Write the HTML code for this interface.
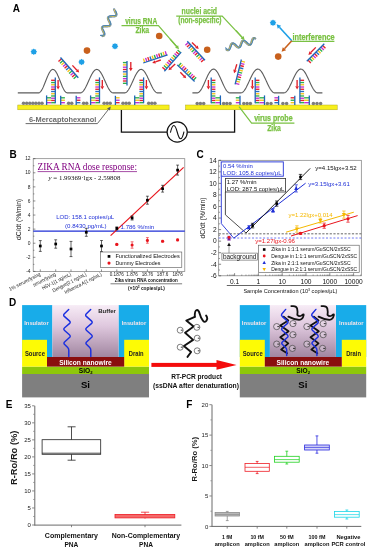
<!DOCTYPE html>
<html><head><meta charset="utf-8"><title>Figure</title>
<style>
html,body{margin:0;padding:0;background:#fff;}
body{width:372px;height:550px;overflow:hidden;font-family:"Liberation Sans",sans-serif;}
svg{display:block;filter:blur(0.3px);}
svg text{font-family:"Liberation Sans",sans-serif;}
svg text.serif{font-family:"Liberation Serif",serif;}
</style></head>
<body>
<svg width="372" height="550" viewBox="0 0 372 550">
<rect x="0" y="0" width="372" height="550" fill="#ffffff"/>
<g id="panelA"><text x="12.7" y="12.1" font-size="10" font-weight="bold" fill="#000" text-anchor="start" >A</text><polyline points="17.8,92.9 18.3,92.9 18.8,92.9 19.3,92.9 19.8,92.9 20.3,92.9 20.8,92.9 21.3,92.9 21.8,92.9 22.3,92.9 22.8,92.9 23.3,92.9 23.8,92.9 24.3,92.9 24.8,92.9 25.3,92.9 25.8,92.9 26.3,92.9 26.8,92.9 27.3,92.9 27.8,92.9 28.3,92.9 28.8,92.9 29.3,92.9 29.8,92.9 30.3,92.9 30.8,92.9 31.3,92.9 31.8,92.9 32.3,92.9 32.8,92.9 33.3,92.9 33.8,92.9 34.3,92.9 34.8,92.9 35.3,92.9 35.8,92.9 36.3,92.9 36.8,92.9 37.3,92.9 37.8,92.9 38.3,92.9 38.8,92.86 39.3,92.68 39.8,92.36 40.3,91.92 40.8,91.35 41.3,90.66 41.8,89.85 42.3,88.95 42.8,87.95 43.3,86.88 43.8,85.73 44.3,84.54 44.8,83.3 45.3,82.04 45.8,80.77 46.3,79.5 46.8,78.25 47.3,77.04 47.8,75.87 48.3,74.77 48.8,73.74 49.3,72.8 49.8,71.95 50.3,71.22 50.8,70.6 51.3,70.1 51.8,69.73 52.3,69.5 52.8,69.4 53.3,69.44 53.8,69.62 54.3,69.94 54.8,70.38 55.3,70.95 55.8,71.64 56.3,72.45 56.8,73.35 57.3,74.35 57.8,75.42 58.3,76.57 58.8,77.76 59.3,79 59.8,80.26 60.3,81.53 60.8,82.8 61.3,84.05 61.8,85.26 62.3,86.43 62.8,87.53 63.3,88.56 63.8,89.5 64.3,90.35 64.8,91.08 65.3,91.7 65.8,92.2 66.3,92.57 66.8,92.8 67.3,92.9 67.8,92.9 68.3,92.9 68.8,92.9 69.3,92.9 69.8,92.9 70.3,92.9 70.8,92.9 71.3,92.9 71.8,92.9 72.3,92.9 72.8,92.9 73.3,92.9 73.8,92.9 74.3,92.9 74.8,92.9 75.3,92.9 75.8,92.9 76.3,92.9 76.8,92.9 77.3,92.9 77.8,92.9 78.3,92.9 78.8,92.9 79.3,92.9 79.8,92.9 80.3,92.9 80.8,92.85 81.3,92.69 81.8,92.42 82.3,92.06 82.8,91.59 83.3,91.03 83.8,90.39 84.3,89.65 84.8,88.84 85.3,87.97 85.8,87.03 86.3,86.03 86.8,84.99 87.3,83.92 87.8,82.82 88.3,81.71 88.8,80.59 89.3,79.48 89.8,78.38 90.3,77.31 90.8,76.27 91.3,75.28 91.8,74.33 92.3,73.46 92.8,72.65 93.3,71.91 93.8,71.27 94.3,70.71 94.8,70.24 95.3,69.88 95.8,69.61 96.3,69.45 96.8,69.4 97.3,69.45 97.8,69.61 98.3,69.88 98.8,70.24 99.3,70.71 99.8,71.27 100.3,71.91 100.8,72.65 101.3,73.46 101.8,74.33 102.3,75.28 102.8,76.27 103.3,77.31 103.8,78.38 104.3,79.48 104.8,80.59 105.3,81.71 105.8,82.82 106.3,83.92 106.8,84.99 107.3,86.03 107.8,87.03 108.3,87.97 108.8,88.84 109.3,89.65 109.8,90.39 110.3,91.03 110.8,91.59 111.3,92.06 111.8,92.42 112.3,92.69 112.8,92.85 113.3,92.9 113.8,92.9 114.3,92.9 114.8,92.9 115.3,92.9 115.8,92.9 116.3,92.9 116.8,92.9 117.3,92.9 117.8,92.9 118.3,92.9 118.8,92.9 119.3,92.9 119.8,92.9 120.3,92.9 120.8,92.9 121.3,92.9 121.8,92.9 122.3,92.9 122.8,92.9 123.3,92.9 123.8,92.9 124.3,92.9 124.8,92.88 125.3,92.77 125.8,92.55 126.3,92.22 126.8,91.8 127.3,91.29 127.8,90.68 128.3,89.99 128.8,89.22 129.3,88.38 129.8,87.47 130.3,86.5 130.8,85.49 131.3,84.44 131.8,83.36 132.3,82.26 132.8,81.15 133.3,80.04 133.8,78.94 134.3,77.86 134.8,76.81 135.3,75.8 135.8,74.83 136.3,73.92 136.8,73.08 137.3,72.31 137.8,71.62 138.3,71.01 138.8,70.5 139.3,70.08 139.8,69.75 140.3,69.53 140.8,69.42 141.3,69.41 141.8,69.5 142.3,69.7 142.8,70 143.3,70.4 143.8,70.9 144.3,71.49 144.8,72.16 145.3,72.92 145.8,73.75 146.3,74.65 146.8,75.6 147.3,76.6 147.8,77.65 148.3,78.72 148.8,79.82 149.3,80.93 149.8,82.04 150.3,83.14 150.8,84.23 151.3,85.28 151.8,86.31 152.3,87.28 152.8,88.2 153.3,89.06 153.8,89.84 154.3,90.55 154.8,91.17 155.3,91.71 155.8,92.15 156.3,92.49 156.8,92.73 157.3,92.87 157.8,92.9 158.3,92.9 158.8,92.9 159.3,92.9 159.8,92.9 160.3,92.9 160.8,92.9 161.3,92.9 161.8,92.9" fill="none" stroke="#5c5c5c" stroke-width="1.1" stroke-linejoin="round"/><polyline points="192.4,92.9 192.9,92.9 193.4,92.9 193.9,92.9 194.4,92.9 194.9,92.9 195.4,92.9 195.9,92.9 196.4,92.9 196.9,92.9 197.4,92.88 197.9,92.76 198.4,92.53 198.9,92.2 199.4,91.76 199.9,91.23 200.4,90.6 200.9,89.88 201.4,89.09 201.9,88.21 202.4,87.28 202.9,86.28 203.4,85.24 203.9,84.15 204.4,83.04 204.9,81.91 205.4,80.77 205.9,79.64 206.4,78.51 206.9,77.41 207.4,76.34 207.9,75.32 208.4,74.34 208.9,73.43 209.4,72.59 209.9,71.82 210.4,71.14 210.9,70.55 211.4,70.05 211.9,69.65 212.4,69.36 212.9,69.18 213.4,69.1 213.9,69.13 214.4,69.28 214.9,69.53 215.4,69.88 215.9,70.34 216.4,70.89 216.9,71.54 217.4,72.27 217.9,73.08 218.4,73.97 218.9,74.92 219.4,75.92 219.9,76.98 220.4,78.07 220.9,79.18 221.4,80.32 221.9,81.46 222.4,82.59 222.9,83.71 223.4,84.81 223.9,85.87 224.4,86.88 224.9,87.85 225.4,88.75 225.9,89.57 226.4,90.32 226.9,90.99 227.4,91.56 227.9,92.04 228.4,92.41 228.9,92.68 229.4,92.85 229.9,92.9 230.4,92.9 230.9,92.9 231.4,92.9 231.9,92.9 232.4,92.9 232.9,92.9 233.4,92.9 233.9,92.9 234.4,92.9 234.9,92.9 235.4,92.9 235.9,92.9 236.4,92.9 236.9,92.9 237.4,92.9 237.9,92.9 238.4,92.9 238.9,92.9 239.4,92.9 239.9,92.9 240.4,92.9 240.9,92.9 241.4,92.83 241.9,92.65 242.4,92.38 242.9,92.02 243.4,91.55 243.9,91 244.4,90.36 244.9,89.64 245.4,88.85 245.9,87.99 246.4,87.08 246.9,86.11 247.4,85.09 247.9,84.04 248.4,82.97 248.9,81.88 249.4,80.78 249.9,79.68 250.4,78.6 250.9,77.53 251.4,76.5 251.9,75.5 252.4,74.55 252.9,73.65 253.4,72.82 253.9,72.06 254.4,71.37 254.9,70.77 255.4,70.25 255.9,69.83 256.4,69.5 256.9,69.26 257.4,69.13 257.9,69.1 258.4,69.17 258.9,69.35 259.4,69.62 259.9,69.98 260.4,70.45 260.9,71 261.4,71.64 261.9,72.36 262.4,73.15 262.9,74.01 263.4,74.92 263.9,75.89 264.4,76.91 264.9,77.96 265.4,79.03 265.9,80.12 266.4,81.22 266.9,82.32 267.4,83.4 267.9,84.47 268.4,85.5 268.9,86.5 269.4,87.45 269.9,88.35 270.4,89.18 270.9,89.94 271.4,90.63 271.9,91.23 272.4,91.75 272.9,92.17 273.4,92.5 273.9,92.74 274.4,92.87 274.9,92.9 275.4,92.9 275.9,92.9 276.4,92.9 276.9,92.9 277.4,92.9 277.9,92.9 278.4,92.9 278.9,92.9 279.4,92.9 279.9,92.9 280.4,92.9 280.9,92.9 281.4,92.9 281.9,92.9 282.4,92.9 282.9,92.9 283.4,92.9 283.9,92.9 284.4,92.83 284.9,92.65 285.4,92.38 285.9,92.02 286.4,91.55 286.9,91 287.4,90.36 287.9,89.64 288.4,88.85 288.9,87.99 289.4,87.08 289.9,86.11 290.4,85.09 290.9,84.04 291.4,82.97 291.9,81.88 292.4,80.78 292.9,79.68 293.4,78.6 293.9,77.53 294.4,76.5 294.9,75.5 295.4,74.55 295.9,73.65 296.4,72.82 296.9,72.06 297.4,71.37 297.9,70.77 298.4,70.25 298.9,69.83 299.4,69.5 299.9,69.26 300.4,69.13 300.9,69.1 301.4,69.17 301.9,69.35 302.4,69.62 302.9,69.98 303.4,70.45 303.9,71 304.4,71.64 304.9,72.36 305.4,73.15 305.9,74.01 306.4,74.92 306.9,75.89 307.4,76.91 307.9,77.96 308.4,79.03 308.9,80.12 309.4,81.22 309.9,82.32 310.4,83.4 310.9,84.47 311.4,85.5 311.9,86.5 312.4,87.45 312.9,88.35 313.4,89.18 313.9,89.94 314.4,90.63 314.9,91.23 315.4,91.75 315.9,92.17 316.4,92.5 316.9,92.74 317.4,92.87 317.9,92.9 318.4,92.9 318.9,92.9 319.4,92.9 319.9,92.9 320.4,92.9 320.9,92.9 321.4,92.9 321.9,92.9 322.4,92.9" fill="none" stroke="#5c5c5c" stroke-width="1.1" stroke-linejoin="round"/><rect x="17.8" y="105" width="151.3" height="4.8" fill="#f7ef1c" stroke="#a9a21a" stroke-width="0.45"/><rect x="185.5" y="105" width="151.7" height="4.8" fill="#f7ef1c" stroke="#a9a21a" stroke-width="0.45"/><circle cx="23.5" cy="103.3" r="1.75" fill="#7d7d7d"/><circle cx="26.7" cy="103.3" r="1.75" fill="#7d7d7d"/><circle cx="29.8" cy="103.3" r="1.75" fill="#7d7d7d"/><circle cx="32.9" cy="103.3" r="1.75" fill="#7d7d7d"/><circle cx="35.9" cy="103.3" r="1.75" fill="#7d7d7d"/><circle cx="39" cy="103.3" r="1.75" fill="#7d7d7d"/><circle cx="42" cy="103.3" r="1.75" fill="#7d7d7d"/><circle cx="68.6" cy="103.3" r="1.75" fill="#7d7d7d"/><circle cx="71.7" cy="103.3" r="1.75" fill="#7d7d7d"/><circle cx="83.6" cy="103.3" r="1.75" fill="#7d7d7d"/><circle cx="86.7" cy="103.3" r="1.75" fill="#7d7d7d"/><circle cx="104.1" cy="103.3" r="1.75" fill="#7d7d7d"/><circle cx="107.2" cy="103.3" r="1.75" fill="#7d7d7d"/><circle cx="110.2" cy="103.3" r="1.75" fill="#7d7d7d"/><circle cx="123" cy="103.3" r="1.75" fill="#7d7d7d"/><circle cx="126.1" cy="103.3" r="1.75" fill="#7d7d7d"/><circle cx="129.2" cy="103.3" r="1.75" fill="#7d7d7d"/><circle cx="148.7" cy="103.3" r="1.75" fill="#7d7d7d"/><circle cx="151.8" cy="103.3" r="1.75" fill="#7d7d7d"/><circle cx="154.9" cy="103.3" r="1.75" fill="#7d7d7d"/><line x1="55.3" y1="80.3" x2="51.1" y2="80.3" stroke="#e8212b" stroke-width="1.35"/><line x1="55.3" y1="82.54" x2="51.1" y2="82.54" stroke="#2fb04a" stroke-width="1.35"/><line x1="55.3" y1="84.78" x2="51.1" y2="84.78" stroke="#f6c21a" stroke-width="1.35"/><line x1="55.3" y1="87.02" x2="51.1" y2="87.02" stroke="#c531cf" stroke-width="1.35"/><line x1="55.3" y1="89.26" x2="51.1" y2="89.26" stroke="#e8212b" stroke-width="1.35"/><line x1="55.3" y1="91.5" x2="51.1" y2="91.5" stroke="#2b6fc0" stroke-width="1.35"/><line x1="55.3" y1="93.74" x2="51.1" y2="93.74" stroke="#f6c21a" stroke-width="1.35"/><line x1="55.3" y1="95.98" x2="51.1" y2="95.98" stroke="#2fb04a" stroke-width="1.35"/><line x1="55.3" y1="98.22" x2="51.1" y2="98.22" stroke="#c531cf" stroke-width="1.35"/><line x1="55.3" y1="100.46" x2="51.1" y2="100.46" stroke="#e8212b" stroke-width="1.35"/><line x1="55.3" y1="102.7" x2="51.1" y2="102.7" stroke="#2fb04a" stroke-width="1.35"/><line x1="55.3" y1="77.4" x2="55.3" y2="103.2" stroke="#1f66b8" stroke-width="1.3"/><line x1="46.6" y1="97.8" x2="51.1" y2="97.8" stroke="#2fb04a" stroke-width="1.35"/><line x1="46.6" y1="100.25" x2="51.1" y2="100.25" stroke="#f6c21a" stroke-width="1.35"/><line x1="46.6" y1="102.7" x2="51.1" y2="102.7" stroke="#c531cf" stroke-width="1.35"/><line x1="46.6" y1="95.4" x2="46.6" y2="105" stroke="#1f66b8" stroke-width="1.3"/><line x1="58.1" y1="80" x2="58.1" y2="86.3" stroke="#e0202a" stroke-width="1.35"/><polygon points="58.1,89.6 56.28,86.3 59.91,86.3" fill="#e0202a"/><line x1="99.5" y1="80.3" x2="95.3" y2="80.3" stroke="#e8212b" stroke-width="1.35"/><line x1="99.5" y1="82.54" x2="95.3" y2="82.54" stroke="#2fb04a" stroke-width="1.35"/><line x1="99.5" y1="84.78" x2="95.3" y2="84.78" stroke="#f6c21a" stroke-width="1.35"/><line x1="99.5" y1="87.02" x2="95.3" y2="87.02" stroke="#c531cf" stroke-width="1.35"/><line x1="99.5" y1="89.26" x2="95.3" y2="89.26" stroke="#e8212b" stroke-width="1.35"/><line x1="99.5" y1="91.5" x2="95.3" y2="91.5" stroke="#2b6fc0" stroke-width="1.35"/><line x1="99.5" y1="93.74" x2="95.3" y2="93.74" stroke="#f6c21a" stroke-width="1.35"/><line x1="99.5" y1="95.98" x2="95.3" y2="95.98" stroke="#2fb04a" stroke-width="1.35"/><line x1="99.5" y1="98.22" x2="95.3" y2="98.22" stroke="#c531cf" stroke-width="1.35"/><line x1="99.5" y1="100.46" x2="95.3" y2="100.46" stroke="#e8212b" stroke-width="1.35"/><line x1="99.5" y1="102.7" x2="95.3" y2="102.7" stroke="#2fb04a" stroke-width="1.35"/><line x1="99.5" y1="77.4" x2="99.5" y2="103.2" stroke="#1f66b8" stroke-width="1.3"/><line x1="90.6" y1="97.8" x2="95.3" y2="97.8" stroke="#2fb04a" stroke-width="1.35"/><line x1="90.6" y1="100.25" x2="95.3" y2="100.25" stroke="#f6c21a" stroke-width="1.35"/><line x1="90.6" y1="102.7" x2="95.3" y2="102.7" stroke="#c531cf" stroke-width="1.35"/><line x1="90.6" y1="95.4" x2="90.6" y2="105" stroke="#1f66b8" stroke-width="1.3"/><line x1="102.3" y1="80" x2="102.3" y2="86.3" stroke="#e0202a" stroke-width="1.35"/><polygon points="102.3,89.6 100.48,86.3 104.11,86.3" fill="#e0202a"/><line x1="143.6" y1="80.3" x2="139.4" y2="80.3" stroke="#e8212b" stroke-width="1.35"/><line x1="143.6" y1="82.54" x2="139.4" y2="82.54" stroke="#2fb04a" stroke-width="1.35"/><line x1="143.6" y1="84.78" x2="139.4" y2="84.78" stroke="#f6c21a" stroke-width="1.35"/><line x1="143.6" y1="87.02" x2="139.4" y2="87.02" stroke="#c531cf" stroke-width="1.35"/><line x1="143.6" y1="89.26" x2="139.4" y2="89.26" stroke="#e8212b" stroke-width="1.35"/><line x1="143.6" y1="91.5" x2="139.4" y2="91.5" stroke="#2b6fc0" stroke-width="1.35"/><line x1="143.6" y1="93.74" x2="139.4" y2="93.74" stroke="#f6c21a" stroke-width="1.35"/><line x1="143.6" y1="95.98" x2="139.4" y2="95.98" stroke="#2fb04a" stroke-width="1.35"/><line x1="143.6" y1="98.22" x2="139.4" y2="98.22" stroke="#c531cf" stroke-width="1.35"/><line x1="143.6" y1="100.46" x2="139.4" y2="100.46" stroke="#e8212b" stroke-width="1.35"/><line x1="143.6" y1="102.7" x2="139.4" y2="102.7" stroke="#2fb04a" stroke-width="1.35"/><line x1="143.6" y1="77.4" x2="143.6" y2="103.2" stroke="#1f66b8" stroke-width="1.3"/><line x1="134.7" y1="97.8" x2="139.4" y2="97.8" stroke="#2fb04a" stroke-width="1.35"/><line x1="134.7" y1="100.25" x2="139.4" y2="100.25" stroke="#f6c21a" stroke-width="1.35"/><line x1="134.7" y1="102.7" x2="139.4" y2="102.7" stroke="#c531cf" stroke-width="1.35"/><line x1="134.7" y1="95.4" x2="134.7" y2="105" stroke="#1f66b8" stroke-width="1.3"/><line x1="146.4" y1="80" x2="146.4" y2="86.3" stroke="#e0202a" stroke-width="1.35"/><polygon points="146.4,89.6 144.59,86.3 148.22,86.3" fill="#e0202a"/><line x1="60.7" y1="97.8" x2="64.9" y2="97.8" stroke="#2fb04a" stroke-width="1.35"/><line x1="60.7" y1="100.25" x2="64.9" y2="100.25" stroke="#f6c21a" stroke-width="1.35"/><line x1="60.7" y1="102.7" x2="64.9" y2="102.7" stroke="#c531cf" stroke-width="1.35"/><line x1="60.7" y1="95.8" x2="60.7" y2="105" stroke="#1f66b8" stroke-width="1.3"/><line x1="76.2" y1="97.8" x2="80.4" y2="97.8" stroke="#c531cf" stroke-width="1.35"/><line x1="76.2" y1="100.25" x2="80.4" y2="100.25" stroke="#e8212b" stroke-width="1.35"/><line x1="76.2" y1="102.7" x2="80.4" y2="102.7" stroke="#2b6fc0" stroke-width="1.35"/><line x1="76.2" y1="95.8" x2="76.2" y2="105" stroke="#1f66b8" stroke-width="1.3"/><line x1="115.4" y1="97.8" x2="119.6" y2="97.8" stroke="#f6c21a" stroke-width="1.35"/><line x1="115.4" y1="100.25" x2="119.6" y2="100.25" stroke="#c531cf" stroke-width="1.35"/><line x1="115.4" y1="102.7" x2="119.6" y2="102.7" stroke="#e8212b" stroke-width="1.35"/><line x1="115.4" y1="95.8" x2="115.4" y2="105" stroke="#1f66b8" stroke-width="1.3"/><circle cx="197.2" cy="103.6" r="1.75" fill="#7d7d7d"/><circle cx="200.4" cy="103.6" r="1.75" fill="#7d7d7d"/><circle cx="203.7" cy="103.6" r="1.75" fill="#7d7d7d"/><circle cx="223.6" cy="103.6" r="1.75" fill="#7d7d7d"/><circle cx="226.8" cy="103.6" r="1.75" fill="#7d7d7d"/><circle cx="230.1" cy="103.6" r="1.75" fill="#7d7d7d"/><circle cx="243.8" cy="103.6" r="1.75" fill="#7d7d7d"/><circle cx="247.1" cy="103.6" r="1.75" fill="#7d7d7d"/><circle cx="250.4" cy="103.6" r="1.75" fill="#7d7d7d"/><circle cx="267.4" cy="103.6" r="1.75" fill="#7d7d7d"/><circle cx="271" cy="103.6" r="1.75" fill="#7d7d7d"/><circle cx="282.9" cy="103.6" r="1.75" fill="#7d7d7d"/><circle cx="286.6" cy="103.6" r="1.75" fill="#7d7d7d"/><circle cx="313.4" cy="103.6" r="1.75" fill="#7d7d7d"/><circle cx="317" cy="103.6" r="1.75" fill="#7d7d7d"/><circle cx="320.6" cy="103.6" r="1.75" fill="#7d7d7d"/><line x1="211.2" y1="80.3" x2="215.4" y2="80.3" stroke="#e8212b" stroke-width="1.35"/><line x1="211.2" y1="82.54" x2="215.4" y2="82.54" stroke="#2fb04a" stroke-width="1.35"/><line x1="211.2" y1="84.78" x2="215.4" y2="84.78" stroke="#f6c21a" stroke-width="1.35"/><line x1="211.2" y1="87.02" x2="215.4" y2="87.02" stroke="#c531cf" stroke-width="1.35"/><line x1="211.2" y1="89.26" x2="215.4" y2="89.26" stroke="#e8212b" stroke-width="1.35"/><line x1="211.2" y1="91.5" x2="215.4" y2="91.5" stroke="#2b6fc0" stroke-width="1.35"/><line x1="211.2" y1="93.74" x2="215.4" y2="93.74" stroke="#f6c21a" stroke-width="1.35"/><line x1="211.2" y1="95.98" x2="215.4" y2="95.98" stroke="#2fb04a" stroke-width="1.35"/><line x1="211.2" y1="98.22" x2="215.4" y2="98.22" stroke="#c531cf" stroke-width="1.35"/><line x1="211.2" y1="100.46" x2="215.4" y2="100.46" stroke="#e8212b" stroke-width="1.35"/><line x1="211.2" y1="102.7" x2="215.4" y2="102.7" stroke="#2fb04a" stroke-width="1.35"/><line x1="211.2" y1="77.4" x2="211.2" y2="103.2" stroke="#1f66b8" stroke-width="1.3"/><line x1="220.4" y1="97.8" x2="215.4" y2="97.8" stroke="#2fb04a" stroke-width="1.35"/><line x1="220.4" y1="100.25" x2="215.4" y2="100.25" stroke="#f6c21a" stroke-width="1.35"/><line x1="220.4" y1="102.7" x2="215.4" y2="102.7" stroke="#c531cf" stroke-width="1.35"/><line x1="220.4" y1="95.4" x2="220.4" y2="105" stroke="#1f66b8" stroke-width="1.3"/><line x1="208.4" y1="80" x2="208.4" y2="86.3" stroke="#e0202a" stroke-width="1.35"/><polygon points="208.4,89.6 206.58,86.3 210.21,86.3" fill="#e0202a"/><line x1="255.2" y1="80.3" x2="259.4" y2="80.3" stroke="#e8212b" stroke-width="1.35"/><line x1="255.2" y1="82.54" x2="259.4" y2="82.54" stroke="#2fb04a" stroke-width="1.35"/><line x1="255.2" y1="84.78" x2="259.4" y2="84.78" stroke="#f6c21a" stroke-width="1.35"/><line x1="255.2" y1="87.02" x2="259.4" y2="87.02" stroke="#c531cf" stroke-width="1.35"/><line x1="255.2" y1="89.26" x2="259.4" y2="89.26" stroke="#e8212b" stroke-width="1.35"/><line x1="255.2" y1="91.5" x2="259.4" y2="91.5" stroke="#2b6fc0" stroke-width="1.35"/><line x1="255.2" y1="93.74" x2="259.4" y2="93.74" stroke="#f6c21a" stroke-width="1.35"/><line x1="255.2" y1="95.98" x2="259.4" y2="95.98" stroke="#2fb04a" stroke-width="1.35"/><line x1="255.2" y1="98.22" x2="259.4" y2="98.22" stroke="#c531cf" stroke-width="1.35"/><line x1="255.2" y1="100.46" x2="259.4" y2="100.46" stroke="#e8212b" stroke-width="1.35"/><line x1="255.2" y1="102.7" x2="259.4" y2="102.7" stroke="#2fb04a" stroke-width="1.35"/><line x1="255.2" y1="77.4" x2="255.2" y2="103.2" stroke="#1f66b8" stroke-width="1.3"/><line x1="264.5" y1="97.8" x2="259.4" y2="97.8" stroke="#2fb04a" stroke-width="1.35"/><line x1="264.5" y1="100.25" x2="259.4" y2="100.25" stroke="#f6c21a" stroke-width="1.35"/><line x1="264.5" y1="102.7" x2="259.4" y2="102.7" stroke="#c531cf" stroke-width="1.35"/><line x1="264.5" y1="95.4" x2="264.5" y2="105" stroke="#1f66b8" stroke-width="1.3"/><line x1="252.4" y1="80" x2="252.4" y2="86.3" stroke="#e0202a" stroke-width="1.35"/><polygon points="252.4,89.6 250.58,86.3 254.21,86.3" fill="#e0202a"/><line x1="299.9" y1="80.3" x2="304.1" y2="80.3" stroke="#e8212b" stroke-width="1.35"/><line x1="299.9" y1="82.54" x2="304.1" y2="82.54" stroke="#2fb04a" stroke-width="1.35"/><line x1="299.9" y1="84.78" x2="304.1" y2="84.78" stroke="#f6c21a" stroke-width="1.35"/><line x1="299.9" y1="87.02" x2="304.1" y2="87.02" stroke="#c531cf" stroke-width="1.35"/><line x1="299.9" y1="89.26" x2="304.1" y2="89.26" stroke="#e8212b" stroke-width="1.35"/><line x1="299.9" y1="91.5" x2="304.1" y2="91.5" stroke="#2b6fc0" stroke-width="1.35"/><line x1="299.9" y1="93.74" x2="304.1" y2="93.74" stroke="#f6c21a" stroke-width="1.35"/><line x1="299.9" y1="95.98" x2="304.1" y2="95.98" stroke="#2fb04a" stroke-width="1.35"/><line x1="299.9" y1="98.22" x2="304.1" y2="98.22" stroke="#c531cf" stroke-width="1.35"/><line x1="299.9" y1="100.46" x2="304.1" y2="100.46" stroke="#e8212b" stroke-width="1.35"/><line x1="299.9" y1="102.7" x2="304.1" y2="102.7" stroke="#2fb04a" stroke-width="1.35"/><line x1="299.9" y1="77.4" x2="299.9" y2="103.2" stroke="#1f66b8" stroke-width="1.3"/><line x1="309.3" y1="97.8" x2="304.1" y2="97.8" stroke="#2fb04a" stroke-width="1.35"/><line x1="309.3" y1="100.25" x2="304.1" y2="100.25" stroke="#f6c21a" stroke-width="1.35"/><line x1="309.3" y1="102.7" x2="304.1" y2="102.7" stroke="#c531cf" stroke-width="1.35"/><line x1="309.3" y1="95.4" x2="309.3" y2="105" stroke="#1f66b8" stroke-width="1.3"/><line x1="297.1" y1="80" x2="297.1" y2="86.3" stroke="#e0202a" stroke-width="1.35"/><polygon points="297.1,89.6 295.28,86.3 298.91,86.3" fill="#e0202a"/><line x1="240" y1="97.8" x2="235.8" y2="97.8" stroke="#2fb04a" stroke-width="1.35"/><line x1="240" y1="100.25" x2="235.8" y2="100.25" stroke="#f6c21a" stroke-width="1.35"/><line x1="240" y1="102.7" x2="235.8" y2="102.7" stroke="#c531cf" stroke-width="1.35"/><line x1="240" y1="95.8" x2="240" y2="105" stroke="#1f66b8" stroke-width="1.3"/><line x1="278.6" y1="97.8" x2="274.4" y2="97.8" stroke="#c531cf" stroke-width="1.35"/><line x1="278.6" y1="100.25" x2="274.4" y2="100.25" stroke="#e8212b" stroke-width="1.35"/><line x1="278.6" y1="102.7" x2="274.4" y2="102.7" stroke="#2b6fc0" stroke-width="1.35"/><line x1="278.6" y1="95.8" x2="278.6" y2="105" stroke="#1f66b8" stroke-width="1.3"/><line x1="294.8" y1="97.8" x2="290.6" y2="97.8" stroke="#e8212b" stroke-width="1.35"/><line x1="294.8" y1="100.25" x2="290.6" y2="100.25" stroke="#2fb04a" stroke-width="1.35"/><line x1="294.8" y1="102.7" x2="290.6" y2="102.7" stroke="#f6c21a" stroke-width="1.35"/><line x1="294.8" y1="95.8" x2="294.8" y2="105" stroke="#1f66b8" stroke-width="1.3"/><line x1="61.55" y1="58.7" x2="58.47" y2="61.41" stroke="#e8212b" stroke-width="1.35"/><line x1="63.07" y1="60.43" x2="59.99" y2="63.14" stroke="#2fb04a" stroke-width="1.35"/><line x1="64.59" y1="62.16" x2="61.5" y2="64.86" stroke="#f6c21a" stroke-width="1.35"/><line x1="66.1" y1="63.89" x2="63.02" y2="66.59" stroke="#c531cf" stroke-width="1.35"/><line x1="67.62" y1="65.62" x2="64.54" y2="68.32" stroke="#e8212b" stroke-width="1.35"/><line x1="69.14" y1="67.35" x2="66.05" y2="70.05" stroke="#2b6fc0" stroke-width="1.35"/><line x1="70.65" y1="69.08" x2="67.57" y2="71.78" stroke="#f6c21a" stroke-width="1.35"/><line x1="72.17" y1="70.81" x2="69.09" y2="73.51" stroke="#2fb04a" stroke-width="1.35"/><line x1="73.69" y1="72.54" x2="70.6" y2="75.24" stroke="#c531cf" stroke-width="1.35"/><line x1="75.2" y1="74.27" x2="72.12" y2="76.97" stroke="#e8212b" stroke-width="1.35"/><line x1="76.72" y1="76" x2="73.64" y2="78.7" stroke="#2fb04a" stroke-width="1.35"/><line x1="60.5" y1="57.5" x2="78.3" y2="77.8" stroke="#1f66b8" stroke-width="1.3"/><line x1="72.4" y1="65.4" x2="76.93" y2="70.2" stroke="#e0202a" stroke-width="1.35"/><polygon points="79.2,72.6 75.61,71.45 78.25,68.95" fill="#e0202a"/><line x1="127" y1="62.6" x2="122.9" y2="62.6" stroke="#2fb04a" stroke-width="1.35"/><line x1="127" y1="64.9" x2="122.9" y2="64.9" stroke="#f6c21a" stroke-width="1.35"/><line x1="127" y1="67.2" x2="122.9" y2="67.2" stroke="#c531cf" stroke-width="1.35"/><line x1="127" y1="69.5" x2="122.9" y2="69.5" stroke="#e8212b" stroke-width="1.35"/><line x1="127" y1="71.8" x2="122.9" y2="71.8" stroke="#2b6fc0" stroke-width="1.35"/><line x1="127" y1="74.1" x2="122.9" y2="74.1" stroke="#f6c21a" stroke-width="1.35"/><line x1="127" y1="76.4" x2="122.9" y2="76.4" stroke="#2fb04a" stroke-width="1.35"/><line x1="127" y1="78.7" x2="122.9" y2="78.7" stroke="#c531cf" stroke-width="1.35"/><line x1="127" y1="81" x2="122.9" y2="81" stroke="#e8212b" stroke-width="1.35"/><line x1="127" y1="83.3" x2="122.9" y2="83.3" stroke="#2fb04a" stroke-width="1.35"/><line x1="127" y1="61" x2="127" y2="85.4" stroke="#1f66b8" stroke-width="1.3"/><line x1="130.8" y1="62" x2="130.8" y2="68" stroke="#e0202a" stroke-width="1.35"/><polygon points="130.8,71.3 128.99,68 132.62,68" fill="#e0202a"/><line x1="144.72" y1="62.49" x2="143.41" y2="58.6" stroke="#f6c21a" stroke-width="1.35"/><line x1="146.9" y1="61.76" x2="145.59" y2="57.87" stroke="#c531cf" stroke-width="1.35"/><line x1="149.08" y1="61.02" x2="147.77" y2="57.14" stroke="#e8212b" stroke-width="1.35"/><line x1="151.26" y1="60.29" x2="149.95" y2="56.41" stroke="#2b6fc0" stroke-width="1.35"/><line x1="153.44" y1="59.56" x2="152.13" y2="55.67" stroke="#f6c21a" stroke-width="1.35"/><line x1="155.62" y1="58.83" x2="154.31" y2="54.94" stroke="#2fb04a" stroke-width="1.35"/><line x1="157.8" y1="58.09" x2="156.49" y2="54.21" stroke="#c531cf" stroke-width="1.35"/><line x1="159.98" y1="57.36" x2="158.67" y2="53.48" stroke="#e8212b" stroke-width="1.35"/><line x1="162.16" y1="56.63" x2="160.85" y2="52.74" stroke="#2fb04a" stroke-width="1.35"/><line x1="164.34" y1="55.9" x2="163.03" y2="52.01" stroke="#f6c21a" stroke-width="1.35"/><line x1="166.52" y1="55.16" x2="165.21" y2="51.28" stroke="#c531cf" stroke-width="1.35"/><line x1="143.2" y1="63" x2="167.6" y2="54.8" stroke="#1f66b8" stroke-width="1.3"/><line x1="160.8" y1="60" x2="155.33" y2="61.85" stroke="#e0202a" stroke-width="1.35"/><polygon points="152.2,62.9 154.75,60.13 155.91,63.57" fill="#e0202a"/><line x1="165.46" y1="70" x2="162.38" y2="67.29" stroke="#e8212b" stroke-width="1.35"/><line x1="166.98" y1="68.27" x2="163.9" y2="65.56" stroke="#2fb04a" stroke-width="1.35"/><line x1="168.49" y1="66.54" x2="165.42" y2="63.84" stroke="#f6c21a" stroke-width="1.35"/><line x1="170.01" y1="64.82" x2="166.94" y2="62.11" stroke="#c531cf" stroke-width="1.35"/><line x1="171.53" y1="63.09" x2="168.45" y2="60.38" stroke="#e8212b" stroke-width="1.35"/><line x1="173.05" y1="61.36" x2="169.97" y2="58.66" stroke="#2b6fc0" stroke-width="1.35"/><line x1="174.57" y1="59.64" x2="171.49" y2="56.93" stroke="#f6c21a" stroke-width="1.35"/><line x1="176.09" y1="57.91" x2="173.01" y2="55.2" stroke="#2fb04a" stroke-width="1.35"/><line x1="177.61" y1="56.18" x2="174.53" y2="53.47" stroke="#c531cf" stroke-width="1.35"/><line x1="179.13" y1="54.46" x2="176.05" y2="51.75" stroke="#e8212b" stroke-width="1.35"/><line x1="180.65" y1="52.73" x2="177.57" y2="50.02" stroke="#2fb04a" stroke-width="1.35"/><line x1="164.4" y1="71.2" x2="181.2" y2="52.1" stroke="#1f66b8" stroke-width="1.3"/><line x1="175.2" y1="63.9" x2="170.82" y2="67.96" stroke="#e0202a" stroke-width="1.35"/><polygon points="168.4,70.2 169.59,66.63 172.05,69.29" fill="#e0202a"/><line x1="188.39" y1="42.47" x2="185.4" y2="45.27" stroke="#c531cf" stroke-width="1.35"/><line x1="189.97" y1="44.15" x2="186.97" y2="46.95" stroke="#e8212b" stroke-width="1.35"/><line x1="191.54" y1="45.83" x2="188.55" y2="48.63" stroke="#2b6fc0" stroke-width="1.35"/><line x1="193.11" y1="47.5" x2="190.12" y2="50.31" stroke="#f6c21a" stroke-width="1.35"/><line x1="194.68" y1="49.18" x2="191.69" y2="51.99" stroke="#2fb04a" stroke-width="1.35"/><line x1="196.25" y1="50.86" x2="193.26" y2="53.66" stroke="#c531cf" stroke-width="1.35"/><line x1="197.83" y1="52.54" x2="194.83" y2="55.34" stroke="#e8212b" stroke-width="1.35"/><line x1="199.4" y1="54.22" x2="196.41" y2="57.02" stroke="#2fb04a" stroke-width="1.35"/><line x1="200.97" y1="55.9" x2="197.98" y2="58.7" stroke="#f6c21a" stroke-width="1.35"/><line x1="202.54" y1="57.58" x2="199.55" y2="60.38" stroke="#c531cf" stroke-width="1.35"/><line x1="204.12" y1="59.26" x2="201.12" y2="62.06" stroke="#e8212b" stroke-width="1.35"/><line x1="187.3" y1="41.3" x2="205" y2="60.2" stroke="#1f66b8" stroke-width="1.3"/><line x1="192" y1="42.4" x2="196.37" y2="46.77" stroke="#e0202a" stroke-width="1.35"/><polygon points="198.7,49.1 195.08,48.05 197.65,45.48" fill="#e0202a"/><line x1="178.36" y1="66" x2="181.19" y2="63.04" stroke="#2fb04a" stroke-width="1.35"/><line x1="180.02" y1="67.59" x2="182.85" y2="64.63" stroke="#f6c21a" stroke-width="1.35"/><line x1="181.69" y1="69.18" x2="184.52" y2="66.21" stroke="#c531cf" stroke-width="1.35"/><line x1="183.35" y1="70.77" x2="186.18" y2="67.8" stroke="#e8212b" stroke-width="1.35"/><line x1="185.01" y1="72.36" x2="187.84" y2="69.39" stroke="#2b6fc0" stroke-width="1.35"/><line x1="186.68" y1="73.94" x2="189.51" y2="70.98" stroke="#f6c21a" stroke-width="1.35"/><line x1="188.34" y1="75.53" x2="191.17" y2="72.56" stroke="#2fb04a" stroke-width="1.35"/><line x1="190.01" y1="77.12" x2="192.84" y2="74.15" stroke="#c531cf" stroke-width="1.35"/><line x1="191.67" y1="78.71" x2="194.5" y2="75.74" stroke="#e8212b" stroke-width="1.35"/><line x1="193.34" y1="80.29" x2="196.17" y2="77.33" stroke="#2fb04a" stroke-width="1.35"/><line x1="177.2" y1="64.9" x2="194.6" y2="81.5" stroke="#1f66b8" stroke-width="1.3"/><line x1="180.3" y1="72.3" x2="183.89" y2="75.95" stroke="#e0202a" stroke-width="1.35"/><polygon points="186.2,78.3 182.59,77.22 185.18,74.67" fill="#e0202a"/><line x1="241.01" y1="61.05" x2="244.98" y2="62.06" stroke="#f6c21a" stroke-width="1.35"/><line x1="240.44" y1="63.28" x2="244.42" y2="64.29" stroke="#c531cf" stroke-width="1.35"/><line x1="239.88" y1="65.51" x2="243.85" y2="66.52" stroke="#e8212b" stroke-width="1.35"/><line x1="239.32" y1="67.74" x2="243.29" y2="68.75" stroke="#2b6fc0" stroke-width="1.35"/><line x1="238.75" y1="69.97" x2="242.73" y2="70.98" stroke="#f6c21a" stroke-width="1.35"/><line x1="238.19" y1="72.2" x2="242.16" y2="73.21" stroke="#2fb04a" stroke-width="1.35"/><line x1="237.62" y1="74.43" x2="241.6" y2="75.44" stroke="#c531cf" stroke-width="1.35"/><line x1="237.06" y1="76.66" x2="241.03" y2="77.66" stroke="#e8212b" stroke-width="1.35"/><line x1="236.49" y1="78.89" x2="240.47" y2="79.89" stroke="#2fb04a" stroke-width="1.35"/><line x1="235.93" y1="81.12" x2="239.9" y2="82.12" stroke="#f6c21a" stroke-width="1.35"/><line x1="235.37" y1="83.35" x2="239.34" y2="84.35" stroke="#c531cf" stroke-width="1.35"/><line x1="241.4" y1="59.5" x2="235.1" y2="84.4" stroke="#1f66b8" stroke-width="1.3"/><line x1="236.8" y1="64.2" x2="235.04" y2="70.14" stroke="#e0202a" stroke-width="1.35"/><polygon points="234.1,73.3 233.3,69.62 236.78,70.65" fill="#e0202a"/><line x1="307.93" y1="60.07" x2="310.83" y2="62.97" stroke="#e8212b" stroke-width="1.35"/><line x1="309.56" y1="58.44" x2="312.46" y2="61.34" stroke="#2fb04a" stroke-width="1.35"/><line x1="311.18" y1="56.82" x2="314.08" y2="59.72" stroke="#f6c21a" stroke-width="1.35"/><line x1="312.81" y1="55.19" x2="315.71" y2="58.09" stroke="#c531cf" stroke-width="1.35"/><line x1="314.44" y1="53.56" x2="317.34" y2="56.46" stroke="#e8212b" stroke-width="1.35"/><line x1="316.06" y1="51.94" x2="318.96" y2="54.84" stroke="#2b6fc0" stroke-width="1.35"/><line x1="317.69" y1="50.31" x2="320.59" y2="53.21" stroke="#f6c21a" stroke-width="1.35"/><line x1="319.32" y1="48.68" x2="322.21" y2="51.58" stroke="#2fb04a" stroke-width="1.35"/><line x1="320.94" y1="47.06" x2="323.84" y2="49.96" stroke="#c531cf" stroke-width="1.35"/><line x1="322.57" y1="45.43" x2="325.47" y2="48.33" stroke="#e8212b" stroke-width="1.35"/><line x1="306.8" y1="61.2" x2="324.3" y2="43.7" stroke="#1f66b8" stroke-width="1.3"/><line x1="315.8" y1="47.4" x2="310.72" y2="52.55" stroke="#e0202a" stroke-width="1.35"/><polygon points="308.4,54.9 309.43,51.28 312.01,53.83" fill="#e0202a"/><polyline points="102.55,36 103.06,35.89 103.49,35.73 103.83,35.52 104.08,35.25 104.24,34.93 104.3,34.54 104.28,34.1 104.17,33.62 104,33.09 103.76,32.52 103.49,31.94 103.2,31.34 102.9,30.73 102.62,30.14 102.37,29.57 102.17,29.02 102.04,28.52 101.98,28.06 102.01,27.66 102.14,27.31 102.35,27.03 102.67,26.79 103.07,26.62 103.55,26.49 104.1,26.4 104.71,26.35 105.35,26.32 106.02,26.31 106.69,26.3 107.35,26.28 107.97,26.23 108.55,26.16 109.06,26.05 109.49,25.89 109.83,25.68 110.08,25.41 110.24,25.09 110.3,24.7 110.28,24.26 110.17,23.78 110,23.25 109.76,22.68 109.49,22.1 109.2,21.5 108.9,20.89 108.62,20.3 108.37,19.73 108.17,19.18 108.04,18.68 107.98,18.22 108.01,17.82 108.14,17.47 108.35,17.19 108.67,16.95 109.07,16.78 109.55,16.65 110.1,16.56 110.71,16.51 111.35,16.48 112.02,16.47 112.69,16.46 113.35,16.44 113.97,16.39 114.55,16.32 115.06,16.21 115.49,16.05 115.83,15.84 116.08,15.57 116.24,15.25 116.3,14.86 116.28,14.42 116.17,13.94 116,13.41 115.76,12.84 115.49,12.26 115.2,11.66 114.9,11.05 114.62,10.46 114.37,9.89 114.17,9.34" fill="none" stroke="#6d8ca6" stroke-width="2.3" stroke-linecap="round"/><polyline points="102.55,36 103.06,35.89 103.49,35.73 103.83,35.52 104.08,35.25 104.24,34.93 104.3,34.54 104.28,34.1 104.17,33.62 104,33.09 103.76,32.52 103.49,31.94 103.2,31.34 102.9,30.73 102.62,30.14 102.37,29.57 102.17,29.02 102.04,28.52 101.98,28.06 102.01,27.66 102.14,27.31 102.35,27.03 102.67,26.79 103.07,26.62 103.55,26.49 104.1,26.4 104.71,26.35 105.35,26.32 106.02,26.31 106.69,26.3 107.35,26.28 107.97,26.23 108.55,26.16 109.06,26.05 109.49,25.89 109.83,25.68 110.08,25.41 110.24,25.09 110.3,24.7 110.28,24.26 110.17,23.78 110,23.25 109.76,22.68 109.49,22.1 109.2,21.5 108.9,20.89 108.62,20.3 108.37,19.73 108.17,19.18 108.04,18.68 107.98,18.22 108.01,17.82 108.14,17.47 108.35,17.19 108.67,16.95 109.07,16.78 109.55,16.65 110.1,16.56 110.71,16.51 111.35,16.48 112.02,16.47 112.69,16.46 113.35,16.44 113.97,16.39 114.55,16.32 115.06,16.21 115.49,16.05 115.83,15.84 116.08,15.57 116.24,15.25 116.3,14.86 116.28,14.42 116.17,13.94 116,13.41 115.76,12.84 115.49,12.26 115.2,11.66 114.9,11.05 114.62,10.46 114.37,9.89 114.17,9.34" fill="none" stroke="#f2c24e" stroke-width="1.1"/><polyline points="100.6,35.4 101.27,35.39 101.92,35.36 102.54,35.32 103.1,35.24 103.6,35.12 104.01,34.95 104.34,34.73 104.58,34.45 104.72,34.11 104.76,33.72 104.72,33.27 104.6,32.78 104.41,32.24 104.17,31.67 103.9,31.08 103.6,30.48 103.3,29.88 103.03,29.29 102.79,28.72 102.6,28.18 102.48,27.69 102.44,27.24 102.48,26.85 102.62,26.51 102.86,26.23 103.19,26.01 103.6,25.84 104.1,25.72 104.66,25.64 105.28,25.6 105.93,25.57 106.6,25.56 107.27,25.55 107.92,25.52 108.54,25.48 109.1,25.4 109.6,25.28 110.01,25.11 110.34,24.89 110.58,24.61 110.72,24.27 110.76,23.88 110.72,23.43 110.6,22.94 110.41,22.4 110.17,21.83 109.9,21.24 109.6,20.64 109.3,20.04 109.03,19.45 108.79,18.88 108.6,18.34 108.48,17.85 108.44,17.4 108.48,17.01 108.62,16.67 108.86,16.39 109.19,16.17 109.6,16 110.1,15.88 110.66,15.8 111.28,15.76 111.93,15.73 112.6,15.72 113.27,15.71 113.92,15.68 114.54,15.64 115.1,15.56 115.6,15.44 116.01,15.27 116.34,15.05 116.58,14.77 116.72,14.43 116.76,14.04 116.72,13.59 116.6,13.1 116.41,12.56 116.17,11.99 115.9,11.4 115.6,10.8" fill="none" stroke="#4f86b6" stroke-width="1.2" stroke-linecap="round"/><polyline points="102.55,36 103.06,35.89 103.49,35.73 103.83,35.52 104.08,35.25 104.24,34.93 104.3,34.54 104.28,34.1 104.17,33.62 104,33.09 103.76,32.52 103.49,31.94 103.2,31.34 102.9,30.73 102.62,30.14 102.37,29.57 102.17,29.02 102.04,28.52 101.98,28.06 102.01,27.66 102.14,27.31 102.35,27.03 102.67,26.79 103.07,26.62 103.55,26.49 104.1,26.4 104.71,26.35 105.35,26.32 106.02,26.31 106.69,26.3 107.35,26.28 107.97,26.23 108.55,26.16 109.06,26.05 109.49,25.89 109.83,25.68 110.08,25.41 110.24,25.09 110.3,24.7 110.28,24.26 110.17,23.78 110,23.25 109.76,22.68 109.49,22.1 109.2,21.5 108.9,20.89 108.62,20.3 108.37,19.73 108.17,19.18 108.04,18.68 107.98,18.22 108.01,17.82 108.14,17.47 108.35,17.19 108.67,16.95 109.07,16.78 109.55,16.65 110.1,16.56 110.71,16.51 111.35,16.48 112.02,16.47 112.69,16.46 113.35,16.44 113.97,16.39 114.55,16.32 115.06,16.21 115.49,16.05 115.83,15.84 116.08,15.57 116.24,15.25 116.3,14.86 116.28,14.42 116.17,13.94 116,13.41 115.76,12.84 115.49,12.26 115.2,11.66 114.9,11.05 114.62,10.46 114.37,9.89 114.17,9.34" fill="none" stroke="#7fae5a" stroke-width="0.6" stroke-dasharray="1.6,2.6"/><polyline points="226.54,49.63 227.01,49.93 227.45,50.11 227.86,50.18 228.24,50.13 228.58,49.95 228.9,49.65 229.19,49.24 229.46,48.73 229.71,48.14 229.94,47.49 230.17,46.82 230.39,46.14 230.62,45.49 230.87,44.9 231.13,44.37 231.42,43.94 231.73,43.62 232.08,43.43 232.45,43.36 232.86,43.41 233.29,43.58 233.75,43.86 234.24,44.22 234.74,44.66 235.25,45.14 235.76,45.63 236.27,46.12 236.78,46.56 237.26,46.95 237.73,47.25 238.17,47.45 238.58,47.53 238.97,47.49 239.32,47.32 239.64,47.03 239.93,46.62 240.2,46.12 240.45,45.54 240.68,44.9 240.91,44.23 241.14,43.55 241.37,42.9 241.61,42.29 241.87,41.76 242.16,41.32 242.47,40.99 242.81,40.79 243.18,40.7 243.58,40.74 244.02,40.91 244.47,41.17 244.96,41.53 245.45,41.96 245.96,42.44 246.48,42.93 246.99,43.42 247.49,43.87 247.98,44.26 248.45,44.57 248.9,44.78 249.31,44.87 249.7,44.84 250.05,44.68 250.37,44.4 250.67,44.01 250.94,43.52 251.19,42.94 251.42,42.3 251.65,41.63 251.88,40.96 252.11,40.3 252.35,39.69 252.61,39.15 252.89,38.7 253.2,38.36 253.54,38.14 253.91,38.05 254.31,38.08 254.74,38.23 255.19,38.49" fill="none" stroke="#6d8ca6" stroke-width="2.3" stroke-linecap="round"/><polyline points="226.54,49.63 227.01,49.93 227.45,50.11 227.86,50.18 228.24,50.13 228.58,49.95 228.9,49.65 229.19,49.24 229.46,48.73 229.71,48.14 229.94,47.49 230.17,46.82 230.39,46.14 230.62,45.49 230.87,44.9 231.13,44.37 231.42,43.94 231.73,43.62 232.08,43.43 232.45,43.36 232.86,43.41 233.29,43.58 233.75,43.86 234.24,44.22 234.74,44.66 235.25,45.14 235.76,45.63 236.27,46.12 236.78,46.56 237.26,46.95 237.73,47.25 238.17,47.45 238.58,47.53 238.97,47.49 239.32,47.32 239.64,47.03 239.93,46.62 240.2,46.12 240.45,45.54 240.68,44.9 240.91,44.23 241.14,43.55 241.37,42.9 241.61,42.29 241.87,41.76 242.16,41.32 242.47,40.99 242.81,40.79 243.18,40.7 243.58,40.74 244.02,40.91 244.47,41.17 244.96,41.53 245.45,41.96 245.96,42.44 246.48,42.93 246.99,43.42 247.49,43.87 247.98,44.26 248.45,44.57 248.9,44.78 249.31,44.87 249.7,44.84 250.05,44.68 250.37,44.4 250.67,44.01 250.94,43.52 251.19,42.94 251.42,42.3 251.65,41.63 251.88,40.96 252.11,40.3 252.35,39.69 252.61,39.15 252.89,38.7 253.2,38.36 253.54,38.14 253.91,38.05 254.31,38.08 254.74,38.23 255.19,38.49" fill="none" stroke="#f2c24e" stroke-width="1.1"/><polyline points="225.6,47.9 226.11,48.39 226.62,48.86 227.11,49.27 227.59,49.6 228.04,49.84 228.47,49.97 228.86,49.98 229.22,49.86 229.55,49.61 229.86,49.25 230.13,48.78 230.39,48.23 230.63,47.6 230.86,46.94 231.08,46.26 231.31,45.6 231.55,44.97 231.8,44.41 232.08,43.94 232.38,43.56 232.71,43.31 233.07,43.18 233.46,43.17 233.88,43.29 234.33,43.52 234.8,43.84 235.3,44.25 235.8,44.71 236.32,45.2 236.83,45.69 237.34,46.16 237.83,46.58 238.31,46.92 238.76,47.17 239.19,47.31 239.59,47.33 239.95,47.22 240.29,46.98 240.59,46.63 240.87,46.17 241.13,45.62 241.37,45.01 241.6,44.35 241.83,43.67 242.06,43 242.29,42.37 242.54,41.81 242.82,41.32 243.12,40.94 243.44,40.67 243.8,40.53 244.19,40.51 244.61,40.62 245.05,40.84 245.52,41.16 246.02,41.56 246.52,42.01 247.03,42.5 247.55,42.99 248.06,43.47 248.55,43.89 249.03,44.24 249.49,44.5 249.92,44.65 250.32,44.67 250.69,44.58 251.02,44.35 251.33,44.01 251.61,43.56 251.87,43.02 252.11,42.41 252.34,41.76 252.57,41.08 252.8,40.41 253.03,39.77 253.28,39.2 253.56,38.71 253.85,38.31 254.18,38.04 254.53,37.88" fill="none" stroke="#4f86b6" stroke-width="1.2" stroke-linecap="round"/><polyline points="226.54,49.63 227.01,49.93 227.45,50.11 227.86,50.18 228.24,50.13 228.58,49.95 228.9,49.65 229.19,49.24 229.46,48.73 229.71,48.14 229.94,47.49 230.17,46.82 230.39,46.14 230.62,45.49 230.87,44.9 231.13,44.37 231.42,43.94 231.73,43.62 232.08,43.43 232.45,43.36 232.86,43.41 233.29,43.58 233.75,43.86 234.24,44.22 234.74,44.66 235.25,45.14 235.76,45.63 236.27,46.12 236.78,46.56 237.26,46.95 237.73,47.25 238.17,47.45 238.58,47.53 238.97,47.49 239.32,47.32 239.64,47.03 239.93,46.62 240.2,46.12 240.45,45.54 240.68,44.9 240.91,44.23 241.14,43.55 241.37,42.9 241.61,42.29 241.87,41.76 242.16,41.32 242.47,40.99 242.81,40.79 243.18,40.7 243.58,40.74 244.02,40.91 244.47,41.17 244.96,41.53 245.45,41.96 245.96,42.44 246.48,42.93 246.99,43.42 247.49,43.87 247.98,44.26 248.45,44.57 248.9,44.78 249.31,44.87 249.7,44.84 250.05,44.68 250.37,44.4 250.67,44.01 250.94,43.52 251.19,42.94 251.42,42.3 251.65,41.63 251.88,40.96 252.11,40.3 252.35,39.69 252.61,39.15 252.89,38.7 253.2,38.36 253.54,38.14 253.91,38.05 254.31,38.08 254.74,38.23 255.19,38.49" fill="none" stroke="#7fae5a" stroke-width="0.6" stroke-dasharray="1.6,2.6"/><polygon points="37.1,51.8 36.06,52.73 36.13,54.13 34.73,54.06 33.8,55.1 32.87,54.06 31.47,54.13 31.54,52.73 30.5,51.8 31.54,50.87 31.47,49.47 32.87,49.54 33.8,48.5 34.73,49.54 36.13,49.47 36.06,50.87" fill="#1ea0e6"/><polygon points="84.9,62 83.86,62.93 83.93,64.33 82.53,64.26 81.6,65.3 80.67,64.26 79.27,64.33 79.34,62.93 78.3,62 79.34,61.07 79.27,59.67 80.67,59.74 81.6,58.7 82.53,59.74 83.93,59.67 83.86,61.07" fill="#1ea0e6"/><polygon points="118.3,46.2 117.26,47.13 117.33,48.53 115.93,48.46 115,49.5 114.07,48.46 112.67,48.53 112.74,47.13 111.7,46.2 112.74,45.27 112.67,43.87 114.07,43.94 115,42.9 115.93,43.94 117.33,43.87 117.26,45.27" fill="#1ea0e6"/><polygon points="276.3,22.8 275.26,23.73 275.33,25.13 273.93,25.06 273,26.1 272.07,25.06 270.67,25.13 270.74,23.73 269.7,22.8 270.74,21.87 270.67,20.47 272.07,20.54 273,19.5 273.93,20.54 275.33,20.47 275.26,21.87" fill="#1ea0e6"/><circle cx="87" cy="50.6" r="3.3" fill="#c8601c"/><circle cx="159.2" cy="36" r="3.3" fill="#c8601c"/><circle cx="207.2" cy="49.8" r="3.3" fill="#c8601c"/><circle cx="278.2" cy="56.6" r="3.3" fill="#c8601c"/><text x="125.2" y="24" font-size="8.3" font-weight="bold" fill="#7ac143" text-anchor="start"  textLength="32" lengthAdjust="spacingAndGlyphs" stroke="#7ac143" stroke-width="0.25">virus RNA</text><text x="135.4" y="32.8" font-size="8.3" font-weight="bold" fill="#7ac143" text-anchor="start"  textLength="13.8" lengthAdjust="spacingAndGlyphs" stroke="#7ac143" stroke-width="0.25">Zika</text><polyline points="121.5,25.7 158.4,25.7 177.6,47.6" fill="none" stroke="#7ac143" stroke-width="1.2"/><line x1="170" y1="39" x2="176.62" y2="46.5" stroke="#7ac143" stroke-width="1.2"/><polygon points="179,49.2 175.13,47.81 178.1,45.19" fill="#7ac143"/><text x="181.5" y="14.3" font-size="8.3" font-weight="bold" fill="#7ac143" text-anchor="start"  textLength="35.5" lengthAdjust="spacingAndGlyphs" stroke="#7ac143" stroke-width="0.25">nuclei acid</text><text x="178.3" y="23.2" font-size="8.2" font-weight="bold" fill="#7ac143" text-anchor="start"  textLength="43.2" lengthAdjust="spacingAndGlyphs" stroke="#7ac143" stroke-width="0.25">(non-specific)</text><polyline points="176.2,16.1 222.2,16.1 243.0,38.4" fill="none" stroke="#7ac143" stroke-width="1.2"/><line x1="236" y1="30.5" x2="242.18" y2="37.33" stroke="#7ac143" stroke-width="1.2"/><polygon points="244.6,40 240.72,38.66 243.65,36" fill="#7ac143"/><text x="292.4" y="39.7" font-size="8.3" font-weight="bold" fill="#7ac143" text-anchor="start"  textLength="42.2" lengthAdjust="spacingAndGlyphs" stroke="#7ac143" stroke-width="0.25">interference</text><line x1="291.8" y1="41.4" x2="334.4" y2="41.4" stroke="#7ac143" stroke-width="1.2"/><line x1="291.8" y1="40.8" x2="279.44" y2="27.3" stroke="#1ea0e6" stroke-width="1.6"/><polygon points="276.6,24.2 281.14,25.74 277.73,28.86" fill="#1ea0e6"/><line x1="291.8" y1="40.8" x2="284.46" y2="48.72" stroke="#c8601c" stroke-width="1.6"/><polygon points="281.6,51.8 282.76,47.15 286.15,50.29" fill="#c8601c"/><text x="254.2" y="121.2" font-size="8.3" font-weight="bold" fill="#7ac143" text-anchor="start"  textLength="38.4" lengthAdjust="spacingAndGlyphs" stroke="#7ac143" stroke-width="0.25">virus probe</text><text x="267.2" y="131" font-size="8.3" font-weight="bold" fill="#7ac143" text-anchor="start"  textLength="13.6" lengthAdjust="spacingAndGlyphs" stroke="#7ac143" stroke-width="0.25">Zika</text><polyline points="239.0,106.6 251.6,123.2 294.4,123.2" fill="none" stroke="#7ac143" stroke-width="1.2"/><text x="29" y="122.2" font-size="7.4" font-weight="bold" fill="#6a6a6a" text-anchor="start" >6-Mercaptohexanol</text><polyline points="25.6,123.6 97.4,123.6 108.4,109.5" fill="none" stroke="#5a5a5a" stroke-width="0.9"/><polygon points="110.8,106.4 109.9,110.6 107.0,108.4" fill="#5a5a5a"/><polyline points="121.4,110 121.4,132.1 167,132.1" fill="none" stroke="#111" stroke-width="1.3"/><polyline points="187.4,132.1 234.6,132.1 234.6,110" fill="none" stroke="#111" stroke-width="1.3"/><circle cx="177.2" cy="132.0" r="10.1" fill="#fff" stroke="#111" stroke-width="1.2"/><path d="M170.4,132.6 C172.6,123.2 174.9,123.2 177.2,132.0 S181.8,141.4 184.0,131.6" fill="none" stroke="#111" stroke-width="1.1"/></g><g id="panelB"><text x="9.4" y="157.9" font-size="10" font-weight="bold" fill="#000" text-anchor="start">B</text><rect x="33.2" y="158.7" width="151.6" height="112.7" fill="none" stroke="#7a7a7a" stroke-width="0.7"/><line x1="33.2" y1="271.4" x2="35.4" y2="271.4" stroke="#333" stroke-width="0.55" /><text x="30.6" y="273.1" font-size="4.9" font-weight="normal" fill="#222" text-anchor="end">-4</text><line x1="33.2" y1="257.31" x2="35.4" y2="257.31" stroke="#333" stroke-width="0.55" /><text x="30.6" y="259.01" font-size="4.9" font-weight="normal" fill="#222" text-anchor="end">-2</text><line x1="33.2" y1="243.22" x2="35.4" y2="243.22" stroke="#333" stroke-width="0.55" /><text x="30.6" y="244.92" font-size="4.9" font-weight="normal" fill="#222" text-anchor="end">0</text><line x1="33.2" y1="229.14" x2="35.4" y2="229.14" stroke="#333" stroke-width="0.55" /><text x="30.6" y="230.84" font-size="4.9" font-weight="normal" fill="#222" text-anchor="end">2</text><line x1="33.2" y1="215.05" x2="35.4" y2="215.05" stroke="#333" stroke-width="0.55" /><text x="30.6" y="216.75" font-size="4.9" font-weight="normal" fill="#222" text-anchor="end">4</text><line x1="33.2" y1="200.96" x2="35.4" y2="200.96" stroke="#333" stroke-width="0.55" /><text x="30.6" y="202.66" font-size="4.9" font-weight="normal" fill="#222" text-anchor="end">6</text><line x1="33.2" y1="186.88" x2="35.4" y2="186.88" stroke="#333" stroke-width="0.55" /><text x="30.6" y="188.57" font-size="4.9" font-weight="normal" fill="#222" text-anchor="end">8</text><line x1="33.2" y1="172.79" x2="35.4" y2="172.79" stroke="#333" stroke-width="0.55" /><text x="30.6" y="174.49" font-size="4.9" font-weight="normal" fill="#222" text-anchor="end">10</text><line x1="33.2" y1="158.7" x2="35.4" y2="158.7" stroke="#333" stroke-width="0.55" /><text x="30.6" y="160.4" font-size="4.9" font-weight="normal" fill="#222" text-anchor="end">12</text><line x1="33.2" y1="264.36" x2="34.4" y2="264.36" stroke="#333" stroke-width="0.5" /><line x1="33.2" y1="250.27" x2="34.4" y2="250.27" stroke="#333" stroke-width="0.5" /><line x1="33.2" y1="236.18" x2="34.4" y2="236.18" stroke="#333" stroke-width="0.5" /><line x1="33.2" y1="222.09" x2="34.4" y2="222.09" stroke="#333" stroke-width="0.5" /><line x1="33.2" y1="208.01" x2="34.4" y2="208.01" stroke="#333" stroke-width="0.5" /><line x1="33.2" y1="193.92" x2="34.4" y2="193.92" stroke="#333" stroke-width="0.5" /><line x1="33.2" y1="179.83" x2="34.4" y2="179.83" stroke="#333" stroke-width="0.5" /><line x1="33.2" y1="165.74" x2="34.4" y2="165.74" stroke="#333" stroke-width="0.5" /><line x1="40.3" y1="271.4" x2="40.3" y2="269.4" stroke="#333" stroke-width="0.55" /><line x1="55.7" y1="271.4" x2="55.7" y2="269.4" stroke="#333" stroke-width="0.55" /><line x1="71" y1="271.4" x2="71" y2="269.4" stroke="#333" stroke-width="0.55" /><line x1="86.3" y1="271.4" x2="86.3" y2="269.4" stroke="#333" stroke-width="0.55" /><line x1="101.5" y1="271.4" x2="101.5" y2="269.4" stroke="#333" stroke-width="0.55" /><line x1="116.8" y1="271.4" x2="116.8" y2="269.4" stroke="#333" stroke-width="0.55" /><line x1="132.1" y1="271.4" x2="132.1" y2="269.4" stroke="#333" stroke-width="0.55" /><line x1="147.4" y1="271.4" x2="147.4" y2="269.4" stroke="#333" stroke-width="0.55" /><line x1="162.6" y1="271.4" x2="162.6" y2="269.4" stroke="#333" stroke-width="0.55" /><line x1="177.6" y1="271.4" x2="177.6" y2="269.4" stroke="#333" stroke-width="0.55" /><line x1="33.2" y1="231.1" x2="184.8" y2="231.1" stroke="#1f2fd6" stroke-width="1.2" /><line x1="110.6" y1="235.6" x2="183.6" y2="167.4" stroke="#e8141c" stroke-width="1.2" /><line x1="40.3" y1="240.6" x2="40.3" y2="251.4" stroke="#000" stroke-width="0.6" /><line x1="38.85" y1="240.6" x2="41.75" y2="240.6" stroke="#000" stroke-width="0.6" /><line x1="38.85" y1="251.4" x2="41.75" y2="251.4" stroke="#000" stroke-width="0.6" /><rect x="38.95" y="244.65" width="2.7" height="2.7" fill="#000"/><line x1="55.7" y1="239.8" x2="55.7" y2="248.2" stroke="#000" stroke-width="0.6" /><line x1="54.25" y1="239.8" x2="57.15" y2="239.8" stroke="#000" stroke-width="0.6" /><line x1="54.25" y1="248.2" x2="57.15" y2="248.2" stroke="#000" stroke-width="0.6" /><rect x="54.35" y="242.65" width="2.7" height="2.7" fill="#000"/><line x1="71" y1="241.4" x2="71" y2="256.6" stroke="#000" stroke-width="0.6" /><line x1="69.55" y1="241.4" x2="72.45" y2="241.4" stroke="#000" stroke-width="0.6" /><line x1="69.55" y1="256.6" x2="72.45" y2="256.6" stroke="#000" stroke-width="0.6" /><rect x="69.65" y="247.65" width="2.7" height="2.7" fill="#000"/><line x1="86.3" y1="228.3" x2="86.3" y2="236.3" stroke="#000" stroke-width="0.6" /><line x1="84.85" y1="228.3" x2="87.75" y2="228.3" stroke="#000" stroke-width="0.6" /><line x1="84.85" y1="236.3" x2="87.75" y2="236.3" stroke="#000" stroke-width="0.6" /><rect x="84.95" y="230.95" width="2.7" height="2.7" fill="#000"/><line x1="101.5" y1="240.5" x2="101.5" y2="251.5" stroke="#000" stroke-width="0.6" /><line x1="100.05" y1="240.5" x2="102.95" y2="240.5" stroke="#000" stroke-width="0.6" /><line x1="100.05" y1="251.5" x2="102.95" y2="251.5" stroke="#000" stroke-width="0.6" /><rect x="100.15" y="244.65" width="2.7" height="2.7" fill="#000"/><line x1="116.8" y1="226.9" x2="116.8" y2="229.9" stroke="#000" stroke-width="0.6" /><line x1="115.35" y1="226.9" x2="118.25" y2="226.9" stroke="#000" stroke-width="0.6" /><line x1="115.35" y1="229.9" x2="118.25" y2="229.9" stroke="#000" stroke-width="0.6" /><rect x="115.45" y="227.05" width="2.7" height="2.7" fill="#000"/><line x1="132.1" y1="216" x2="132.1" y2="220" stroke="#000" stroke-width="0.6" /><line x1="130.65" y1="216" x2="133.55" y2="216" stroke="#000" stroke-width="0.6" /><line x1="130.65" y1="220" x2="133.55" y2="220" stroke="#000" stroke-width="0.6" /><rect x="130.75" y="216.65" width="2.7" height="2.7" fill="#000"/><line x1="147.4" y1="196.2" x2="147.4" y2="204.2" stroke="#000" stroke-width="0.6" /><line x1="145.95" y1="196.2" x2="148.85" y2="196.2" stroke="#000" stroke-width="0.6" /><line x1="145.95" y1="204.2" x2="148.85" y2="204.2" stroke="#000" stroke-width="0.6" /><rect x="146.05" y="198.85" width="2.7" height="2.7" fill="#000"/><line x1="162.6" y1="185.3" x2="162.6" y2="192.1" stroke="#000" stroke-width="0.6" /><line x1="161.15" y1="185.3" x2="164.05" y2="185.3" stroke="#000" stroke-width="0.6" /><line x1="161.15" y1="192.1" x2="164.05" y2="192.1" stroke="#000" stroke-width="0.6" /><rect x="161.25" y="187.35" width="2.7" height="2.7" fill="#000"/><line x1="177.6" y1="165.1" x2="177.6" y2="175.1" stroke="#000" stroke-width="0.6" /><line x1="176.15" y1="165.1" x2="179.05" y2="165.1" stroke="#000" stroke-width="0.6" /><line x1="176.15" y1="175.1" x2="179.05" y2="175.1" stroke="#000" stroke-width="0.6" /><rect x="176.25" y="168.75" width="2.7" height="2.7" fill="#000"/><line x1="116.8" y1="243.8" x2="116.8" y2="245" stroke="#e8141c" stroke-width="0.6" /><line x1="115.35" y1="243.8" x2="118.25" y2="243.8" stroke="#e8141c" stroke-width="0.6" /><line x1="115.35" y1="245" x2="118.25" y2="245" stroke="#e8141c" stroke-width="0.6" /><circle cx="116.8" cy="244.4" r="1.55" fill="#e8141c"/><line x1="132.1" y1="241.8" x2="132.1" y2="248.2" stroke="#e8141c" stroke-width="0.6" /><line x1="130.65" y1="241.8" x2="133.55" y2="241.8" stroke="#e8141c" stroke-width="0.6" /><line x1="130.65" y1="248.2" x2="133.55" y2="248.2" stroke="#e8141c" stroke-width="0.6" /><circle cx="132.1" cy="245" r="1.55" fill="#e8141c"/><line x1="147.4" y1="237.6" x2="147.4" y2="243.2" stroke="#e8141c" stroke-width="0.6" /><line x1="145.95" y1="237.6" x2="148.85" y2="237.6" stroke="#e8141c" stroke-width="0.6" /><line x1="145.95" y1="243.2" x2="148.85" y2="243.2" stroke="#e8141c" stroke-width="0.6" /><circle cx="147.4" cy="240.4" r="1.55" fill="#e8141c"/><line x1="162.6" y1="240.4" x2="162.6" y2="242" stroke="#e8141c" stroke-width="0.6" /><line x1="161.15" y1="240.4" x2="164.05" y2="240.4" stroke="#e8141c" stroke-width="0.6" /><line x1="161.15" y1="242" x2="164.05" y2="242" stroke="#e8141c" stroke-width="0.6" /><circle cx="162.6" cy="241.2" r="1.55" fill="#e8141c"/><line x1="177.6" y1="239.2" x2="177.6" y2="240.6" stroke="#e8141c" stroke-width="0.6" /><line x1="176.15" y1="239.2" x2="179.05" y2="239.2" stroke="#e8141c" stroke-width="0.6" /><line x1="176.15" y1="240.6" x2="179.05" y2="240.6" stroke="#e8141c" stroke-width="0.6" /><circle cx="177.6" cy="239.9" r="1.55" fill="#e8141c"/><text x="37.6" y="170.2" font-size="9.8" font-weight="normal" fill="#800080" text-anchor="start"  textLength="99.4" lengthAdjust="spacingAndGlyphs" class="serif">ZIKA RNA dose response:</text><line x1="37.6" y1="171.6" x2="137" y2="171.6" stroke="#800080" stroke-width="0.7" /><text x="48.6" y="180.1" font-size="7" font-weight="normal" fill="#111" text-anchor="start"  textLength="71.8" lengthAdjust="spacingAndGlyphs" class="serif"><tspan font-style="italic">y</tspan> = 1.99369·lgx - 2.59808</text><text x="56.2" y="219.4" font-size="5.6" font-weight="normal" fill="#1f2fd6" text-anchor="start"  textLength="58" lengthAdjust="spacingAndGlyphs">LOD: 158.1 copies/μL</text><text x="65" y="227.6" font-size="5.6" font-weight="normal" fill="#1f2fd6" text-anchor="start"  textLength="41.5" lengthAdjust="spacingAndGlyphs">(0.8430 pg/mL)</text><text x="120.6" y="229.4" font-size="5.7" font-weight="normal" fill="#1f2fd6" text-anchor="start"  textLength="33.6" lengthAdjust="spacingAndGlyphs">1.786 %/min</text><rect x="100.6" y="252.0" width="81.2" height="15.4" fill="#fff" stroke="#555" stroke-width="0.6"/><rect x="107.65" y="255.05" width="2.7" height="2.7" fill="#000"/><circle cx="109" cy="263.1" r="1.55" fill="#e8141c"/><text x="115.4" y="258.3" font-size="5.6" font-weight="normal" fill="#111" text-anchor="start"  textLength="64.4" lengthAdjust="spacingAndGlyphs">Functionalized Electrodes</text><text x="115.4" y="265" font-size="5.6" font-weight="normal" fill="#111" text-anchor="start"  textLength="45" lengthAdjust="spacingAndGlyphs">Dummy Electrodes</text><text transform="translate(21.2,219.4) rotate(-90)" font-size="7.0" text-anchor="middle" fill="#111" textLength="41" lengthAdjust="spacingAndGlyphs">dC/dt (%/min)</text><text x="116.8" y="276.3" font-size="4.6" font-weight="normal" fill="#222" text-anchor="middle">0.1876</text><text x="132.1" y="276.3" font-size="4.6" font-weight="normal" fill="#222" text-anchor="middle">1.876</text><text x="147.4" y="276.3" font-size="4.6" font-weight="normal" fill="#222" text-anchor="middle">18.76</text><text x="162.6" y="276.3" font-size="4.6" font-weight="normal" fill="#222" text-anchor="middle">187.6</text><text x="177.6" y="276.3" font-size="4.6" font-weight="normal" fill="#222" text-anchor="middle">1876</text><line x1="110.5" y1="283.8" x2="182.1" y2="283.8" stroke="#222" stroke-width="0.6" /><text x="146.2" y="282.4" font-size="4.8" font-weight="bold" fill="#111" text-anchor="middle"  textLength="63" lengthAdjust="spacingAndGlyphs">Zika virus RNA concentration</text><text x="146.5" y="290" font-size="4.8" font-weight="bold" fill="#111" text-anchor="middle">(×10<tspan font-size="3.2" dy="-1.6">3</tspan><tspan dy="1.6"> copies/μL)</tspan></text><text transform="translate(40.9,275.4) rotate(-27)" font-size="5.2" text-anchor="end" fill="#222" textLength="34.6" lengthAdjust="spacingAndGlyphs">1% serum/lysing</text><text transform="translate(56.3,275.4) rotate(-27)" font-size="5.2" text-anchor="end" fill="#222" textLength="25" lengthAdjust="spacingAndGlyphs">serum/lysing</text><text transform="translate(71.6,275.4) rotate(-27)" font-size="5.2" text-anchor="end" fill="#222" textLength="32.2" lengthAdjust="spacingAndGlyphs">HSV-1(1 ng/mL)</text><text transform="translate(86.9,275.4) rotate(-27)" font-size="5.2" text-anchor="end" fill="#222" textLength="37.4" lengthAdjust="spacingAndGlyphs">Dengue(0.1 ng/mL)</text><text transform="translate(102.1,275.4) rotate(-27)" font-size="5.2" text-anchor="end" fill="#222" textLength="41" lengthAdjust="spacingAndGlyphs">Influenza A(1 ng/mL)</text></g><g id="panelC"><text x="196.6" y="157.5" font-size="10" font-weight="bold" fill="#000" text-anchor="start">C</text><rect x="218.7" y="160.3" width="142.6" height="115.5" fill="none" stroke="#7a7a7a" stroke-width="0.7"/><line x1="218.7" y1="275.8" x2="221.1" y2="275.8" stroke="#333" stroke-width="0.6" /><text x="216.6" y="278.1" font-size="6.6" font-weight="normal" fill="#111" text-anchor="end">-6</text><line x1="218.7" y1="264.25" x2="221.1" y2="264.25" stroke="#333" stroke-width="0.6" /><text x="216.6" y="266.55" font-size="6.6" font-weight="normal" fill="#111" text-anchor="end">-4</text><line x1="218.7" y1="252.7" x2="221.1" y2="252.7" stroke="#333" stroke-width="0.6" /><text x="216.6" y="255" font-size="6.6" font-weight="normal" fill="#111" text-anchor="end">-2</text><line x1="218.7" y1="241.15" x2="221.1" y2="241.15" stroke="#333" stroke-width="0.6" /><text x="216.6" y="243.45" font-size="6.6" font-weight="normal" fill="#111" text-anchor="end">0</text><line x1="218.7" y1="229.6" x2="221.1" y2="229.6" stroke="#333" stroke-width="0.6" /><text x="216.6" y="231.9" font-size="6.6" font-weight="normal" fill="#111" text-anchor="end">2</text><line x1="218.7" y1="218.05" x2="221.1" y2="218.05" stroke="#333" stroke-width="0.6" /><text x="216.6" y="220.35" font-size="6.6" font-weight="normal" fill="#111" text-anchor="end">4</text><line x1="218.7" y1="206.5" x2="221.1" y2="206.5" stroke="#333" stroke-width="0.6" /><text x="216.6" y="208.8" font-size="6.6" font-weight="normal" fill="#111" text-anchor="end">6</text><line x1="218.7" y1="194.95" x2="221.1" y2="194.95" stroke="#333" stroke-width="0.6" /><text x="216.6" y="197.25" font-size="6.6" font-weight="normal" fill="#111" text-anchor="end">8</text><line x1="218.7" y1="183.4" x2="221.1" y2="183.4" stroke="#333" stroke-width="0.6" /><text x="216.6" y="185.7" font-size="6.6" font-weight="normal" fill="#111" text-anchor="end">10</text><line x1="218.7" y1="171.85" x2="221.1" y2="171.85" stroke="#333" stroke-width="0.6" /><text x="216.6" y="174.15" font-size="6.6" font-weight="normal" fill="#111" text-anchor="end">12</text><line x1="218.7" y1="160.3" x2="221.1" y2="160.3" stroke="#333" stroke-width="0.6" /><text x="216.6" y="162.6" font-size="6.6" font-weight="normal" fill="#111" text-anchor="end">14</text><line x1="218.7" y1="270.02" x2="220" y2="270.02" stroke="#333" stroke-width="0.5" /><line x1="218.7" y1="258.48" x2="220" y2="258.48" stroke="#333" stroke-width="0.5" /><line x1="218.7" y1="246.93" x2="220" y2="246.93" stroke="#333" stroke-width="0.5" /><line x1="218.7" y1="235.38" x2="220" y2="235.38" stroke="#333" stroke-width="0.5" /><line x1="218.7" y1="223.83" x2="220" y2="223.83" stroke="#333" stroke-width="0.5" /><line x1="218.7" y1="212.28" x2="220" y2="212.28" stroke="#333" stroke-width="0.5" /><line x1="218.7" y1="200.73" x2="220" y2="200.73" stroke="#333" stroke-width="0.5" /><line x1="218.7" y1="189.18" x2="220" y2="189.18" stroke="#333" stroke-width="0.5" /><line x1="218.7" y1="177.62" x2="220" y2="177.62" stroke="#333" stroke-width="0.5" /><line x1="218.7" y1="166.08" x2="220" y2="166.08" stroke="#333" stroke-width="0.5" /><line x1="234.6" y1="275.8" x2="234.6" y2="273.2" stroke="#333" stroke-width="0.6" /><line x1="241.76" y1="275.8" x2="241.76" y2="274.5" stroke="#333" stroke-width="0.45" /><line x1="245.96" y1="275.8" x2="245.96" y2="274.5" stroke="#333" stroke-width="0.45" /><line x1="248.93" y1="275.8" x2="248.93" y2="274.5" stroke="#333" stroke-width="0.45" /><line x1="251.24" y1="275.8" x2="251.24" y2="274.5" stroke="#333" stroke-width="0.45" /><line x1="253.12" y1="275.8" x2="253.12" y2="274.5" stroke="#333" stroke-width="0.45" /><line x1="254.71" y1="275.8" x2="254.71" y2="274.5" stroke="#333" stroke-width="0.45" /><line x1="256.09" y1="275.8" x2="256.09" y2="274.5" stroke="#333" stroke-width="0.45" /><line x1="257.31" y1="275.8" x2="257.31" y2="274.5" stroke="#333" stroke-width="0.45" /><line x1="258.4" y1="275.8" x2="258.4" y2="273.2" stroke="#333" stroke-width="0.6" /><line x1="265.56" y1="275.8" x2="265.56" y2="274.5" stroke="#333" stroke-width="0.45" /><line x1="269.76" y1="275.8" x2="269.76" y2="274.5" stroke="#333" stroke-width="0.45" /><line x1="272.73" y1="275.8" x2="272.73" y2="274.5" stroke="#333" stroke-width="0.45" /><line x1="275.04" y1="275.8" x2="275.04" y2="274.5" stroke="#333" stroke-width="0.45" /><line x1="276.92" y1="275.8" x2="276.92" y2="274.5" stroke="#333" stroke-width="0.45" /><line x1="278.51" y1="275.8" x2="278.51" y2="274.5" stroke="#333" stroke-width="0.45" /><line x1="279.89" y1="275.8" x2="279.89" y2="274.5" stroke="#333" stroke-width="0.45" /><line x1="281.11" y1="275.8" x2="281.11" y2="274.5" stroke="#333" stroke-width="0.45" /><line x1="282.2" y1="275.8" x2="282.2" y2="273.2" stroke="#333" stroke-width="0.6" /><line x1="289.36" y1="275.8" x2="289.36" y2="274.5" stroke="#333" stroke-width="0.45" /><line x1="293.56" y1="275.8" x2="293.56" y2="274.5" stroke="#333" stroke-width="0.45" /><line x1="296.53" y1="275.8" x2="296.53" y2="274.5" stroke="#333" stroke-width="0.45" /><line x1="298.84" y1="275.8" x2="298.84" y2="274.5" stroke="#333" stroke-width="0.45" /><line x1="300.72" y1="275.8" x2="300.72" y2="274.5" stroke="#333" stroke-width="0.45" /><line x1="302.31" y1="275.8" x2="302.31" y2="274.5" stroke="#333" stroke-width="0.45" /><line x1="303.69" y1="275.8" x2="303.69" y2="274.5" stroke="#333" stroke-width="0.45" /><line x1="304.91" y1="275.8" x2="304.91" y2="274.5" stroke="#333" stroke-width="0.45" /><line x1="306" y1="275.8" x2="306" y2="273.2" stroke="#333" stroke-width="0.6" /><line x1="313.16" y1="275.8" x2="313.16" y2="274.5" stroke="#333" stroke-width="0.45" /><line x1="317.36" y1="275.8" x2="317.36" y2="274.5" stroke="#333" stroke-width="0.45" /><line x1="320.33" y1="275.8" x2="320.33" y2="274.5" stroke="#333" stroke-width="0.45" /><line x1="322.64" y1="275.8" x2="322.64" y2="274.5" stroke="#333" stroke-width="0.45" /><line x1="324.52" y1="275.8" x2="324.52" y2="274.5" stroke="#333" stroke-width="0.45" /><line x1="326.11" y1="275.8" x2="326.11" y2="274.5" stroke="#333" stroke-width="0.45" /><line x1="327.49" y1="275.8" x2="327.49" y2="274.5" stroke="#333" stroke-width="0.45" /><line x1="328.71" y1="275.8" x2="328.71" y2="274.5" stroke="#333" stroke-width="0.45" /><line x1="329.8" y1="275.8" x2="329.8" y2="273.2" stroke="#333" stroke-width="0.6" /><line x1="336.96" y1="275.8" x2="336.96" y2="274.5" stroke="#333" stroke-width="0.45" /><line x1="341.16" y1="275.8" x2="341.16" y2="274.5" stroke="#333" stroke-width="0.45" /><line x1="344.13" y1="275.8" x2="344.13" y2="274.5" stroke="#333" stroke-width="0.45" /><line x1="346.44" y1="275.8" x2="346.44" y2="274.5" stroke="#333" stroke-width="0.45" /><line x1="348.32" y1="275.8" x2="348.32" y2="274.5" stroke="#333" stroke-width="0.45" /><line x1="349.91" y1="275.8" x2="349.91" y2="274.5" stroke="#333" stroke-width="0.45" /><line x1="351.29" y1="275.8" x2="351.29" y2="274.5" stroke="#333" stroke-width="0.45" /><line x1="352.51" y1="275.8" x2="352.51" y2="274.5" stroke="#333" stroke-width="0.45" /><line x1="353.6" y1="275.8" x2="353.6" y2="273.2" stroke="#333" stroke-width="0.6" /><line x1="360.76" y1="275.8" x2="360.76" y2="274.5" stroke="#333" stroke-width="0.45" /><line x1="227.44" y1="275.8" x2="227.44" y2="274.5" stroke="#333" stroke-width="0.45" /><line x1="229.32" y1="275.8" x2="229.32" y2="274.5" stroke="#333" stroke-width="0.45" /><line x1="230.91" y1="275.8" x2="230.91" y2="274.5" stroke="#333" stroke-width="0.45" /><line x1="232.29" y1="275.8" x2="232.29" y2="274.5" stroke="#333" stroke-width="0.45" /><line x1="233.51" y1="275.8" x2="233.51" y2="274.5" stroke="#333" stroke-width="0.45" /><text x="234.6" y="283.8" font-size="6.6" font-weight="normal" fill="#111" text-anchor="middle">0.1</text><text x="258.4" y="283.8" font-size="6.6" font-weight="normal" fill="#111" text-anchor="middle">1</text><text x="282.2" y="283.8" font-size="6.6" font-weight="normal" fill="#111" text-anchor="middle">10</text><text x="306" y="283.8" font-size="6.6" font-weight="normal" fill="#111" text-anchor="middle">100</text><text x="329.8" y="283.8" font-size="6.6" font-weight="normal" fill="#111" text-anchor="middle">1000</text><text x="353.6" y="283.8" font-size="6.6" font-weight="normal" fill="#111" text-anchor="middle">10000</text><line x1="226.8" y1="285.5" x2="358.5" y2="285.5" stroke="#222" stroke-width="0.7" /><text x="243.4" y="292.6" font-size="5.4" font-weight="normal" fill="#111" text-anchor="start"  textLength="94" lengthAdjust="spacingAndGlyphs">Sample Concentration (10<tspan font-size="3.4" dy="-2">3</tspan><tspan dy="2"> copies/μL)</tspan></text><line x1="218.7" y1="233.82" x2="361.3" y2="233.82" stroke="#333" stroke-width="0.75" stroke-dasharray="2.2,1.5"/><line x1="218.7" y1="238.03" x2="361.3" y2="238.03" stroke="#4a55ee" stroke-width="0.8" stroke-dasharray="2.0,1.7"/><polyline points="221.3,176.4 221.3,223.6 233.8,238.2" fill="none" stroke="#1f2fd6" stroke-width="0.9"/><polyline points="225.4,192 225.4,214.8 246.0,233.0" fill="none" stroke="#222" stroke-width="0.8"/><line x1="233.8" y1="238.2" x2="305.6" y2="183.2" stroke="#1f2fd6" stroke-width="1" /><line x1="246" y1="233" x2="310.2" y2="168.4" stroke="#111" stroke-width="0.9" /><line x1="291" y1="236" x2="357.6" y2="215.6" stroke="#e8141c" stroke-width="1" /><line x1="286" y1="232.2" x2="353.8" y2="212.2" stroke="#f5b800" stroke-width="1" /><rect x="221.2" y="161.9" width="62.1" height="14.3" fill="#fff" stroke="#1f2fd6" stroke-width="0.9"/><text x="223.1" y="167.8" font-size="6.1" font-weight="normal" fill="#1f2fd6" text-anchor="start"  textLength="29.8" lengthAdjust="spacingAndGlyphs">0.54 %/min</text><text x="223.1" y="174.9" font-size="6.1" font-weight="normal" fill="#1f2fd6" text-anchor="start"  textLength="58.4" lengthAdjust="spacingAndGlyphs">LOD: 105.8 copies/μL</text><rect x="225.4" y="178.5" width="60.2" height="13.5" fill="#fff" stroke="#333" stroke-width="0.8"/><text x="226.8" y="184.2" font-size="6.1" font-weight="normal" fill="#111" text-anchor="start"  textLength="29.8" lengthAdjust="spacingAndGlyphs">1.27 %/min</text><text x="226.8" y="190.9" font-size="6.1" font-weight="normal" fill="#111" text-anchor="start"  textLength="57.6" lengthAdjust="spacingAndGlyphs">LOD: 287.5 copies/μL</text><line x1="252.6" y1="223.3" x2="252.6" y2="227.9" stroke="#000" stroke-width="0.7" /><line x1="250.9" y1="223.3" x2="254.3" y2="223.3" stroke="#000" stroke-width="0.7" /><line x1="250.9" y1="227.9" x2="254.3" y2="227.9" stroke="#000" stroke-width="0.7" /><rect x="251.3" y="224.3" width="2.6" height="2.6" fill="#000"/><line x1="276.7" y1="201" x2="276.7" y2="206.2" stroke="#000" stroke-width="0.7" /><line x1="275" y1="201" x2="278.4" y2="201" stroke="#000" stroke-width="0.7" /><line x1="275" y1="206.2" x2="278.4" y2="206.2" stroke="#000" stroke-width="0.7" /><rect x="275.4" y="202.3" width="2.6" height="2.6" fill="#000"/><line x1="300.5" y1="174.4" x2="300.5" y2="179.6" stroke="#000" stroke-width="0.7" /><line x1="298.8" y1="174.4" x2="302.2" y2="174.4" stroke="#000" stroke-width="0.7" /><line x1="298.8" y1="179.6" x2="302.2" y2="179.6" stroke="#000" stroke-width="0.7" /><rect x="299.2" y="175.7" width="2.6" height="2.6" fill="#000"/><line x1="248.9" y1="225.8" x2="248.9" y2="229" stroke="#1f2fd6" stroke-width="0.7" /><line x1="247.2" y1="225.8" x2="250.6" y2="225.8" stroke="#1f2fd6" stroke-width="0.7" /><line x1="247.2" y1="229" x2="250.6" y2="229" stroke="#1f2fd6" stroke-width="0.7" /><polygon points="248.9,225.1 246.9,228.9 250.9,228.9" fill="#1f2fd6"/><line x1="273" y1="208.7" x2="273" y2="212.3" stroke="#1f2fd6" stroke-width="0.7" /><line x1="271.3" y1="208.7" x2="274.7" y2="208.7" stroke="#1f2fd6" stroke-width="0.7" /><line x1="271.3" y1="212.3" x2="274.7" y2="212.3" stroke="#1f2fd6" stroke-width="0.7" /><polygon points="273,208.2 271,212 275,212" fill="#1f2fd6"/><line x1="296.2" y1="184.8" x2="296.2" y2="192" stroke="#1f2fd6" stroke-width="0.7" /><line x1="294.5" y1="184.8" x2="297.9" y2="184.8" stroke="#1f2fd6" stroke-width="0.7" /><line x1="294.5" y1="192" x2="297.9" y2="192" stroke="#1f2fd6" stroke-width="0.7" /><polygon points="296.2,186.1 294.2,189.9 298.2,189.9" fill="#1f2fd6"/><line x1="300.5" y1="232.5" x2="300.5" y2="234.3" stroke="#e8141c" stroke-width="0.7" /><line x1="298.8" y1="232.5" x2="302.2" y2="232.5" stroke="#e8141c" stroke-width="0.7" /><line x1="298.8" y1="234.3" x2="302.2" y2="234.3" stroke="#e8141c" stroke-width="0.7" /><circle cx="300.5" cy="233.4" r="1.6" fill="#e8141c"/><line x1="324.2" y1="223.1" x2="324.2" y2="228.3" stroke="#e8141c" stroke-width="0.7" /><line x1="322.5" y1="223.1" x2="325.9" y2="223.1" stroke="#e8141c" stroke-width="0.7" /><line x1="322.5" y1="228.3" x2="325.9" y2="228.3" stroke="#e8141c" stroke-width="0.7" /><circle cx="324.2" cy="225.7" r="1.6" fill="#e8141c"/><line x1="348" y1="215.4" x2="348" y2="222.2" stroke="#e8141c" stroke-width="0.7" /><line x1="346.3" y1="215.4" x2="349.7" y2="215.4" stroke="#e8141c" stroke-width="0.7" /><line x1="346.3" y1="222.2" x2="349.7" y2="222.2" stroke="#e8141c" stroke-width="0.7" /><circle cx="348" cy="218.8" r="1.6" fill="#e8141c"/><line x1="296.9" y1="225.8" x2="296.9" y2="232.2" stroke="#f5b800" stroke-width="0.7" /><line x1="295.2" y1="225.8" x2="298.6" y2="225.8" stroke="#f5b800" stroke-width="0.7" /><line x1="295.2" y1="232.2" x2="298.6" y2="232.2" stroke="#f5b800" stroke-width="0.7" /><polygon points="296.9,231.3 294.9,227.5 298.9,227.5" fill="#f5b800"/><line x1="320.4" y1="218.2" x2="320.4" y2="223" stroke="#f5b800" stroke-width="0.7" /><line x1="318.7" y1="218.2" x2="322.1" y2="218.2" stroke="#f5b800" stroke-width="0.7" /><line x1="318.7" y1="223" x2="322.1" y2="223" stroke="#f5b800" stroke-width="0.7" /><polygon points="320.4,222.9 318.4,219.1 322.4,219.1" fill="#f5b800"/><line x1="343.9" y1="211" x2="343.9" y2="218.2" stroke="#f5b800" stroke-width="0.7" /><line x1="342.2" y1="211" x2="345.6" y2="211" stroke="#f5b800" stroke-width="0.7" /><line x1="342.2" y1="218.2" x2="345.6" y2="218.2" stroke="#f5b800" stroke-width="0.7" /><polygon points="343.9,216.9 341.9,213.1 345.9,213.1" fill="#f5b800"/><line x1="229" y1="236.3" x2="229" y2="240.1" stroke="#7a1fa0" stroke-width="0.7" /><line x1="227.3" y1="236.3" x2="230.7" y2="236.3" stroke="#7a1fa0" stroke-width="0.7" /><line x1="227.3" y1="240.1" x2="230.7" y2="240.1" stroke="#7a1fa0" stroke-width="0.7" /><rect x="227.6" y="237.4" width="2.8" height="2.8" fill="#7a1fa0"/><circle cx="229" cy="237.3" r="1.4" fill="#e8141c"/><line x1="229" y1="253" x2="229" y2="246" stroke="#777" stroke-width="0.7" /><polygon points="229,242.53 227.2,245.95 230.8,245.95" fill="#111"/><rect x="221.9" y="253.1" width="35.5" height="7.0" fill="#fff" stroke="#555" stroke-width="0.6"/><text x="223" y="258.9" font-size="6.8" font-weight="normal" fill="#111" text-anchor="start"  textLength="33.4" lengthAdjust="spacingAndGlyphs">background</text><text x="315.3" y="169.6" font-size="5.9" font-weight="normal" fill="#111" text-anchor="start"  textLength="41.4" lengthAdjust="spacingAndGlyphs">y=4.15lgx+3.52</text><text x="308.2" y="185.9" font-size="5.9" font-weight="normal" fill="#1f2fd6" text-anchor="start"  textLength="41.6" lengthAdjust="spacingAndGlyphs">y=3.15lgx+3.61</text><text x="288.5" y="216.6" font-size="5.9" font-weight="normal" fill="#f5b800" text-anchor="start"  textLength="44.2" lengthAdjust="spacingAndGlyphs">y=1.22lgx+0.014</text><text x="255.2" y="243.1" font-size="5.9" font-weight="normal" fill="#e8141c" text-anchor="start"  textLength="39.8" lengthAdjust="spacingAndGlyphs">y=1.27lgx-0.96</text><rect x="258.4" y="245.2" width="100.8" height="27.3" fill="#fff" stroke="#555" stroke-width="0.6"/><rect x="262.9" y="248.2" width="2.6" height="2.6" fill="#000"/><circle cx="264.2" cy="256" r="1.4" fill="#e8141c"/><polygon points="264.2,260.75 262.5,263.97 265.9,263.97" fill="#1f2fd6"/><polygon points="264.2,271.15 262.5,267.93 265.9,267.93" fill="#f5b800"/><text x="271.2" y="251.3" font-size="5.2" font-weight="normal" fill="#111" text-anchor="start"  textLength="79.5" lengthAdjust="spacingAndGlyphs">Zika in 1:1:1 serum/GuSCN/2xSSC</text><text x="271.2" y="257.8" font-size="5.2" font-weight="normal" fill="#111" text-anchor="start"  textLength="86" lengthAdjust="spacingAndGlyphs">Dengue in 1:1:1 serum/GuSCN/2xSSC</text><text x="271.2" y="264.5" font-size="5.2" font-weight="normal" fill="#111" text-anchor="start"  textLength="79.5" lengthAdjust="spacingAndGlyphs">Zika in 2:1:1 serum/GuSCN/2xSSC</text><text x="271.2" y="271" font-size="5.2" font-weight="normal" fill="#111" text-anchor="start"  textLength="86" lengthAdjust="spacingAndGlyphs">Dengue in 2:1:1 serum/GuSCN/2xSSC</text><text transform="translate(204.6,218.0) rotate(-90)" font-size="6.6" text-anchor="middle" fill="#111" textLength="41" lengthAdjust="spacingAndGlyphs">dC/dt (%/min)</text></g><g id="panelD"><defs><linearGradient id="bufg" x1="0" y1="0" x2="0" y2="1"><stop offset="0" stop-color="#f7ecf6"/><stop offset="0.4" stop-color="#dfc8de"/><stop offset="1" stop-color="#a186a0"/></linearGradient></defs><text x="9.1" y="306.2" font-size="10" font-weight="bold" fill="#000" text-anchor="start">D</text><rect x="22.1" y="374" width="126.9" height="23.4" fill="#7f7f7f"/><rect x="22.1" y="366.6" width="126.9" height="7.4" fill="#8ec70a"/><rect x="22.1" y="305.1" width="30.3" height="51.9" fill="#18ace9"/><rect x="118.5" y="305.1" width="30.5" height="51.9" fill="#18ace9"/><rect x="52.4" y="305.1" width="66.1" height="51.9" fill="url(#bufg)"/><rect x="22.1" y="339.8" width="24.9" height="26.8" fill="#fdfb05"/><rect x="124.2" y="339.8" width="24.8" height="26.8" fill="#fdfb05"/><rect x="47" y="357" width="77.2" height="9.6" fill="#8a0e0e"/><text x="36.45" y="325.1" font-size="6" font-weight="bold" fill="#f3e4ea" text-anchor="middle"  textLength="24.4" lengthAdjust="spacingAndGlyphs">Insulator</text><text x="133.95" y="325.1" font-size="6" font-weight="bold" fill="#f3e4ea" text-anchor="middle"  textLength="24.4" lengthAdjust="spacingAndGlyphs">Insulator</text><text x="34.95" y="355.7" font-size="6.5" font-weight="bold" fill="#222" text-anchor="middle"  textLength="20" lengthAdjust="spacingAndGlyphs">Source</text><text x="136.2" y="355.7" font-size="6.5" font-weight="bold" fill="#222" text-anchor="middle"  textLength="14.8" lengthAdjust="spacingAndGlyphs">Drain</text><text x="85.45" y="364.6" font-size="6.6" font-weight="bold" fill="#fff" text-anchor="middle"  textLength="52.6" lengthAdjust="spacingAndGlyphs">Silicon nanowire</text><text x="78.85" y="372.9" font-size="6.6" font-weight="bold" fill="#000" text-anchor="start">SiO<tspan font-size="4.2" dy="1.2">2</tspan></text><text x="85.45" y="388.1" font-size="9.6" font-weight="bold" fill="#000" text-anchor="middle">Si</text><rect x="239.8" y="374" width="126.4" height="23.4" fill="#7f7f7f"/><rect x="239.8" y="366.6" width="126.4" height="7.4" fill="#8ec70a"/><rect x="239.8" y="305.1" width="30.1" height="51.9" fill="#18ace9"/><rect x="335.9" y="305.1" width="30.3" height="51.9" fill="#18ace9"/><rect x="269.9" y="305.1" width="66" height="51.9" fill="url(#bufg)"/><rect x="239.8" y="339.8" width="25" height="26.8" fill="#fdfb05"/><rect x="341.8" y="339.8" width="24.4" height="26.8" fill="#fdfb05"/><rect x="264.8" y="357" width="77" height="9.6" fill="#8a0e0e"/><text x="254.05" y="325.1" font-size="6" font-weight="bold" fill="#f3e4ea" text-anchor="middle"  textLength="24.4" lengthAdjust="spacingAndGlyphs">Insulator</text><text x="351.25" y="325.1" font-size="6" font-weight="bold" fill="#f3e4ea" text-anchor="middle"  textLength="24.4" lengthAdjust="spacingAndGlyphs">Insulator</text><text x="252.7" y="355.7" font-size="6.5" font-weight="bold" fill="#222" text-anchor="middle"  textLength="20" lengthAdjust="spacingAndGlyphs">Source</text><text x="353.6" y="355.7" font-size="6.5" font-weight="bold" fill="#222" text-anchor="middle"  textLength="14.8" lengthAdjust="spacingAndGlyphs">Drain</text><text x="302.9" y="364.6" font-size="6.6" font-weight="bold" fill="#fff" text-anchor="middle"  textLength="52.6" lengthAdjust="spacingAndGlyphs">Silicon nanowire</text><text x="296.3" y="372.9" font-size="6.6" font-weight="bold" fill="#000" text-anchor="start">SiO<tspan font-size="4.2" dy="1.2">2</tspan></text><text x="302.9" y="388.1" font-size="9.6" font-weight="bold" fill="#000" text-anchor="middle">Si</text><text x="107" y="313.4" font-size="5.6" font-weight="bold" fill="#222" text-anchor="middle"  textLength="17.6" lengthAdjust="spacingAndGlyphs">Buffer</text><path d="M68.7,309.4 L64.14,314.04 Q63,315.2 64.6,316.62 L69.4,320.88 Q71,322.3 69.4,323.66 L64.6,327.74 Q63,329.1 64.6,330.52 L69.4,334.78 Q71,336.2 69.46,337.58 L64.84,341.72 Q63.3,343.1 64.4,344.2 L67.7,347.5 Q68.8,348.6 68.8,350.16 L68.8,356.4" fill="none" stroke="#1a2fe0" stroke-width="1.45" stroke-linejoin="round" stroke-linecap="round"/><path d="M90.7,309.4 L86.14,314.04 Q85,315.2 86.6,316.62 L91.4,320.88 Q93,322.3 91.4,323.66 L86.6,327.74 Q85,329.1 86.6,330.52 L91.4,334.78 Q93,336.2 91.46,337.58 L86.84,341.72 Q85.3,343.1 86.4,344.2 L89.7,347.5 Q90.8,348.6 90.8,350.16 L90.8,356.4" fill="none" stroke="#1a2fe0" stroke-width="1.45" stroke-linejoin="round" stroke-linecap="round"/><polyline points="287.1,353.2 281.1,349.6 288.3,343.4 280.3,337.2 288.6,331.2 280.3,325.4 288.3,320.4 283.7,316.6" fill="none" stroke="#111" stroke-width="1.8" stroke-linejoin="round" stroke-linecap="round"/><path d="M291.3,306.2 Q296.3,305.4 297.1,308.4 Q297.9,312.2 297.3,314.8 Q299.3,317.2 301.7,315.4 Q304.3,313.2 303.5,315.6 Q302.7,319.6 299.1,319.8 Q293.7,319.4 288.3,316.6" fill="none" stroke="#111" stroke-width="1.8" stroke-linejoin="round" stroke-linecap="round"/><path d="M285.7,309.4 L281.78,314.04 Q280.8,315.2 282.4,316.62 L287.2,320.88 Q288.8,322.3 287.2,323.66 L282.4,327.74 Q280.8,329.1 282.4,330.52 L287.2,334.78 Q288.8,336.2 287.26,337.58 L282.64,341.72 Q281.1,343.1 282.22,344.2 L285.58,347.5 Q286.7,348.6 286.7,350 L286.7,355.6" fill="none" stroke="#1a2fe0" stroke-width="1.45" stroke-linejoin="round" stroke-linecap="round"/><circle cx="276.7" cy="326.6" r="3.1" fill="#efe6ef" fill-opacity="0.35" stroke="#3a3a3a" stroke-width="0.65"/><line x1="277.3" y1="326.6" x2="279.3" y2="326.6" stroke="#222" stroke-width="0.9" /><circle cx="293" cy="323.6" r="3.1" fill="#efe6ef" fill-opacity="0.35" stroke="#3a3a3a" stroke-width="0.65"/><line x1="293.6" y1="323.6" x2="295.6" y2="323.6" stroke="#222" stroke-width="0.9" /><circle cx="293" cy="334.7" r="3.1" fill="#efe6ef" fill-opacity="0.35" stroke="#3a3a3a" stroke-width="0.65"/><line x1="293.6" y1="334.7" x2="295.6" y2="334.7" stroke="#222" stroke-width="0.9" /><circle cx="276.7" cy="344.1" r="3.1" fill="#efe6ef" fill-opacity="0.35" stroke="#3a3a3a" stroke-width="0.65"/><line x1="277.3" y1="344.1" x2="279.3" y2="344.1" stroke="#222" stroke-width="0.9" /><circle cx="292.4" cy="348.4" r="3.1" fill="#efe6ef" fill-opacity="0.35" stroke="#3a3a3a" stroke-width="0.65"/><line x1="293" y1="348.4" x2="295" y2="348.4" stroke="#222" stroke-width="0.9" /><polyline points="317.3,353.2 311.3,349.6 318.5,343.4 310.5,337.2 318.8,331.2 310.5,325.4 318.5,320.4 313.9,316.6" fill="none" stroke="#111" stroke-width="1.8" stroke-linejoin="round" stroke-linecap="round"/><path d="M321.5,306.2 Q326.5,305.4 327.3,308.4 Q328.1,312.2 327.5,314.8 Q329.5,317.2 331.9,315.4 Q334.5,313.2 333.7,315.6 Q332.9,319.6 329.3,319.8 Q323.9,319.4 318.5,316.6" fill="none" stroke="#111" stroke-width="1.8" stroke-linejoin="round" stroke-linecap="round"/><path d="M315.9,309.4 L311.98,314.04 Q311,315.2 312.6,316.62 L317.4,320.88 Q319,322.3 317.4,323.66 L312.6,327.74 Q311,329.1 312.6,330.52 L317.4,334.78 Q319,336.2 317.46,337.58 L312.84,341.72 Q311.3,343.1 312.42,344.2 L315.78,347.5 Q316.9,348.6 316.9,350 L316.9,355.6" fill="none" stroke="#1a2fe0" stroke-width="1.45" stroke-linejoin="round" stroke-linecap="round"/><circle cx="306.9" cy="326.6" r="3.1" fill="#efe6ef" fill-opacity="0.35" stroke="#3a3a3a" stroke-width="0.65"/><line x1="307.5" y1="326.6" x2="309.5" y2="326.6" stroke="#222" stroke-width="0.9" /><circle cx="323.2" cy="323.6" r="3.1" fill="#efe6ef" fill-opacity="0.35" stroke="#3a3a3a" stroke-width="0.65"/><line x1="323.8" y1="323.6" x2="325.8" y2="323.6" stroke="#222" stroke-width="0.9" /><circle cx="323.2" cy="334.7" r="3.1" fill="#efe6ef" fill-opacity="0.35" stroke="#3a3a3a" stroke-width="0.65"/><line x1="323.8" y1="334.7" x2="325.8" y2="334.7" stroke="#222" stroke-width="0.9" /><circle cx="306.9" cy="344.1" r="3.1" fill="#efe6ef" fill-opacity="0.35" stroke="#3a3a3a" stroke-width="0.65"/><line x1="307.5" y1="344.1" x2="309.5" y2="344.1" stroke="#222" stroke-width="0.9" /><circle cx="322.6" cy="348.4" r="3.1" fill="#efe6ef" fill-opacity="0.35" stroke="#3a3a3a" stroke-width="0.65"/><line x1="323.2" y1="348.4" x2="325.2" y2="348.4" stroke="#222" stroke-width="0.9" /><polyline points="187.5,356.9 191.1,352 183.9,346 193.1,339.9 185.1,332.7 193.6,326.6 186.3,320.6 194.8,316.9" fill="none" stroke="#111" stroke-width="1.9" stroke-linejoin="round" stroke-linecap="round"/><path d="M194.8,316.9 Q194.6,310.6 196.6,310.1 Q198.6,309.6 199.7,313.85 Q200.8,318.1 202.9,320.55 Q205,323 206.4,320.8 Q207.8,318.6 206.95,317.05 L206.1,315.5" fill="none" stroke="#111" stroke-width="1.9" stroke-linejoin="round" stroke-linecap="round"/><circle cx="180.2" cy="330.2" r="3.0" fill="#fff" stroke="#3a3a3a" stroke-width="0.65"/><line x1="180.8" y1="330.2" x2="182.7" y2="330.2" stroke="#222" stroke-width="0.9" /><circle cx="196.9" cy="327.3" r="3.0" fill="#fff" stroke="#3a3a3a" stroke-width="0.65"/><line x1="197.5" y1="327.3" x2="199.4" y2="327.3" stroke="#222" stroke-width="0.9" /><circle cx="197.2" cy="338.2" r="3.0" fill="#fff" stroke="#3a3a3a" stroke-width="0.65"/><line x1="197.8" y1="338.2" x2="199.7" y2="338.2" stroke="#222" stroke-width="0.9" /><circle cx="180.2" cy="347.2" r="3.0" fill="#fff" stroke="#3a3a3a" stroke-width="0.65"/><line x1="180.8" y1="347.2" x2="182.7" y2="347.2" stroke="#222" stroke-width="0.9" /><circle cx="197.2" cy="350.8" r="3.0" fill="#fff" stroke="#3a3a3a" stroke-width="0.65"/><line x1="197.8" y1="350.8" x2="199.7" y2="350.8" stroke="#222" stroke-width="0.9" /><rect x="151.4" y="362.9" width="67" height="4" fill="#f40c0c"/><polygon points="216.5,360.0 236.6,364.9 216.5,369.8" fill="#f40c0c"/><text x="196.6" y="379.3" font-size="6.6" font-weight="bold" fill="#111" text-anchor="middle"  textLength="50.8" lengthAdjust="spacingAndGlyphs">RT-PCR product</text><text x="196" y="387.6" font-size="6.6" font-weight="bold" fill="#111" text-anchor="middle"  textLength="86" lengthAdjust="spacingAndGlyphs">(ssDNA after denaturation)</text></g><g id="panelE"><text x="5.7" y="407.6" font-size="10" font-weight="bold" fill="#000" text-anchor="start">E</text><line x1="34.8" y1="405.8" x2="34.8" y2="525.5" stroke="#6a6a6a" stroke-width="1" /><line x1="34.3" y1="525.1" x2="181.4" y2="525.1" stroke="#6a6a6a" stroke-width="1" /><line x1="32.1" y1="525" x2="34.5" y2="525" stroke="#6a6a6a" stroke-width="0.8" /><text x="30.9" y="527.1" font-size="6" font-weight="normal" fill="#222" text-anchor="end">0</text><line x1="32.1" y1="507.97" x2="34.5" y2="507.97" stroke="#6a6a6a" stroke-width="0.8" /><text x="30.9" y="510.07" font-size="6" font-weight="normal" fill="#222" text-anchor="end">5</text><line x1="32.1" y1="490.94" x2="34.5" y2="490.94" stroke="#6a6a6a" stroke-width="0.8" /><text x="30.9" y="493.04" font-size="6" font-weight="normal" fill="#222" text-anchor="end">10</text><line x1="32.1" y1="473.91" x2="34.5" y2="473.91" stroke="#6a6a6a" stroke-width="0.8" /><text x="30.9" y="476.01" font-size="6" font-weight="normal" fill="#222" text-anchor="end">15</text><line x1="32.1" y1="456.89" x2="34.5" y2="456.89" stroke="#6a6a6a" stroke-width="0.8" /><text x="30.9" y="458.99" font-size="6" font-weight="normal" fill="#222" text-anchor="end">20</text><line x1="32.1" y1="439.86" x2="34.5" y2="439.86" stroke="#6a6a6a" stroke-width="0.8" /><text x="30.9" y="441.96" font-size="6" font-weight="normal" fill="#222" text-anchor="end">25</text><line x1="32.1" y1="422.83" x2="34.5" y2="422.83" stroke="#6a6a6a" stroke-width="0.8" /><text x="30.9" y="424.93" font-size="6" font-weight="normal" fill="#222" text-anchor="end">30</text><line x1="32.1" y1="405.8" x2="34.5" y2="405.8" stroke="#6a6a6a" stroke-width="0.8" /><text x="30.9" y="407.9" font-size="6" font-weight="normal" fill="#222" text-anchor="end">35</text><line x1="33.1" y1="516.49" x2="34.5" y2="516.49" stroke="#6a6a6a" stroke-width="0.6" /><line x1="33.1" y1="499.46" x2="34.5" y2="499.46" stroke="#6a6a6a" stroke-width="0.6" /><line x1="33.1" y1="482.43" x2="34.5" y2="482.43" stroke="#6a6a6a" stroke-width="0.6" /><line x1="33.1" y1="465.4" x2="34.5" y2="465.4" stroke="#6a6a6a" stroke-width="0.6" /><line x1="33.1" y1="448.37" x2="34.5" y2="448.37" stroke="#6a6a6a" stroke-width="0.6" /><line x1="33.1" y1="431.34" x2="34.5" y2="431.34" stroke="#6a6a6a" stroke-width="0.6" /><line x1="33.1" y1="414.31" x2="34.5" y2="414.31" stroke="#6a6a6a" stroke-width="0.6" /><line x1="71.5" y1="525" x2="71.5" y2="527.2" stroke="#6a6a6a" stroke-width="0.8" /><line x1="145" y1="525" x2="145" y2="527.2" stroke="#6a6a6a" stroke-width="0.8" /><rect x="42.1" y="439.7" width="58.6" height="14.6" fill="#fff" stroke="#222" stroke-width="0.8"/><line x1="42.1" y1="453.2" x2="100.7" y2="453.2" stroke="#222" stroke-width="0.8" /><line x1="71.5" y1="439.7" x2="71.5" y2="426.8" stroke="#222" stroke-width="0.8" /><line x1="67.6" y1="426.8" x2="75.6" y2="426.8" stroke="#222" stroke-width="0.8" /><line x1="71.5" y1="454.3" x2="71.5" y2="460.2" stroke="#222" stroke-width="0.8" /><line x1="67.6" y1="460.2" x2="75.6" y2="460.2" stroke="#222" stroke-width="0.8" /><rect x="115.0" y="514.4" width="59.8" height="3.5" fill="#f46a6a" stroke="#ee1c24" stroke-width="0.8"/><line x1="145" y1="514.4" x2="145" y2="512.2" stroke="#ee1c24" stroke-width="0.8" /><line x1="141" y1="512.2" x2="149.2" y2="512.2" stroke="#ee1c24" stroke-width="0.8" /><line x1="145" y1="517.9" x2="145" y2="518.6" stroke="#ee1c24" stroke-width="0.8" /><text x="71.4" y="538" font-size="6.6" font-weight="bold" fill="#111" text-anchor="middle"  textLength="53.2" lengthAdjust="spacingAndGlyphs">Complementary</text><text x="71.4" y="546.6" font-size="6.6" font-weight="bold" fill="#111" text-anchor="middle">PNA</text><text x="146" y="538" font-size="6.6" font-weight="bold" fill="#111" text-anchor="middle"  textLength="68.4" lengthAdjust="spacingAndGlyphs">Non-Complementary</text><text x="146" y="546.6" font-size="6.6" font-weight="bold" fill="#111" text-anchor="middle">PNA</text><text transform="translate(17.0,457.8) rotate(-90)" font-size="9" font-weight="bold" text-anchor="middle" fill="#1a1a1a" textLength="54.4" lengthAdjust="spacingAndGlyphs">R-Ro/Ro (%)</text></g><g id="panelF"><text x="186.2" y="407.6" font-size="10" font-weight="bold" fill="#000" text-anchor="start">F</text><line x1="212" y1="404.7" x2="212" y2="526.9" stroke="#6a6a6a" stroke-width="1" /><line x1="211.5" y1="526.4" x2="361.3" y2="526.4" stroke="#6a6a6a" stroke-width="1" /><line x1="209.4" y1="526.4" x2="211.8" y2="526.4" stroke="#6a6a6a" stroke-width="0.8" /><text x="208.3" y="528.5" font-size="6" font-weight="normal" fill="#222" text-anchor="end">0</text><line x1="209.4" y1="495.97" x2="211.8" y2="495.97" stroke="#6a6a6a" stroke-width="0.8" /><text x="208.3" y="498.07" font-size="6" font-weight="normal" fill="#222" text-anchor="end">5</text><line x1="209.4" y1="465.55" x2="211.8" y2="465.55" stroke="#6a6a6a" stroke-width="0.8" /><text x="208.3" y="467.65" font-size="6" font-weight="normal" fill="#222" text-anchor="end">10</text><line x1="209.4" y1="435.12" x2="211.8" y2="435.12" stroke="#6a6a6a" stroke-width="0.8" /><text x="208.3" y="437.23" font-size="6" font-weight="normal" fill="#222" text-anchor="end">15</text><line x1="209.4" y1="404.7" x2="211.8" y2="404.7" stroke="#6a6a6a" stroke-width="0.8" /><text x="208.3" y="406.8" font-size="6" font-weight="normal" fill="#222" text-anchor="end">20</text><line x1="210.4" y1="511.19" x2="211.8" y2="511.19" stroke="#6a6a6a" stroke-width="0.6" /><line x1="210.4" y1="480.76" x2="211.8" y2="480.76" stroke="#6a6a6a" stroke-width="0.6" /><line x1="210.4" y1="450.34" x2="211.8" y2="450.34" stroke="#6a6a6a" stroke-width="0.6" /><line x1="210.4" y1="419.91" x2="211.8" y2="419.91" stroke="#6a6a6a" stroke-width="0.6" /><line x1="227.2" y1="526.4" x2="227.2" y2="528.6" stroke="#6a6a6a" stroke-width="0.8" /><line x1="257.2" y1="526.4" x2="257.2" y2="528.6" stroke="#6a6a6a" stroke-width="0.8" /><line x1="286.8" y1="526.4" x2="286.8" y2="528.6" stroke="#6a6a6a" stroke-width="0.8" /><line x1="317" y1="526.4" x2="317" y2="528.6" stroke="#6a6a6a" stroke-width="0.8" /><line x1="346.8" y1="526.4" x2="346.8" y2="528.6" stroke="#6a6a6a" stroke-width="0.8" /><rect x="215.1" y="512.6" width="24.3" height="3.4" fill="#bdbdbd" stroke="#8a8a8a" stroke-width="0.8"/><line x1="215.1" y1="514.4" x2="239.4" y2="514.4" stroke="#8a8a8a" stroke-width="0.7" /><line x1="227.25" y1="512.6" x2="227.25" y2="511.4" stroke="#8a8a8a" stroke-width="0.8" /><line x1="225.85" y1="511.4" x2="228.65" y2="511.4" stroke="#8a8a8a" stroke-width="0.8" /><line x1="227.25" y1="516" x2="227.25" y2="520.6" stroke="#8a8a8a" stroke-width="0.8" /><line x1="225.85" y1="520.6" x2="228.65" y2="520.6" stroke="#8a8a8a" stroke-width="0.8" /><rect x="245" y="463.4" width="24.3" height="7.9" fill="#fff" stroke="#ee1c24" stroke-width="0.8"/><line x1="245" y1="467.3" x2="269.3" y2="467.3" stroke="#ee1c24" stroke-width="0.7" /><line x1="257.15" y1="463.4" x2="257.15" y2="461.4" stroke="#ee1c24" stroke-width="0.8" /><line x1="255.75" y1="461.4" x2="258.55" y2="461.4" stroke="#ee1c24" stroke-width="0.8" /><line x1="257.15" y1="471.3" x2="257.15" y2="473.6" stroke="#ee1c24" stroke-width="0.8" /><line x1="255.75" y1="473.6" x2="258.55" y2="473.6" stroke="#ee1c24" stroke-width="0.8" /><rect x="274.4" y="456.3" width="24.8" height="5.9" fill="#fff" stroke="#1fd11f" stroke-width="0.8"/><line x1="274.4" y1="459.6" x2="299.2" y2="459.6" stroke="#1fd11f" stroke-width="0.7" /><line x1="286.8" y1="456.3" x2="286.8" y2="451.2" stroke="#1fd11f" stroke-width="0.8" /><line x1="285.4" y1="451.2" x2="288.2" y2="451.2" stroke="#1fd11f" stroke-width="0.8" /><line x1="286.8" y1="462.2" x2="286.8" y2="464" stroke="#1fd11f" stroke-width="0.8" /><line x1="285.4" y1="464" x2="288.2" y2="464" stroke="#1fd11f" stroke-width="0.8" /><rect x="304.6" y="445" width="24.7" height="5" fill="#d6d6f7" stroke="#2a2adf" stroke-width="0.8"/><line x1="304.6" y1="447.4" x2="329.3" y2="447.4" stroke="#2a2adf" stroke-width="0.7" /><line x1="316.95" y1="445" x2="316.95" y2="435.9" stroke="#2a2adf" stroke-width="0.8" /><line x1="315.55" y1="435.9" x2="318.35" y2="435.9" stroke="#2a2adf" stroke-width="0.8" /><line x1="316.95" y1="450" x2="316.95" y2="453.2" stroke="#2a2adf" stroke-width="0.8" /><line x1="315.55" y1="453.2" x2="318.35" y2="453.2" stroke="#2a2adf" stroke-width="0.8" /><rect x="334.5" y="511.4" width="24.7" height="5.8" fill="#fff" stroke="#19d6e6" stroke-width="0.8"/><line x1="334.5" y1="514.6" x2="359.2" y2="514.6" stroke="#19d6e6" stroke-width="0.7" /><line x1="346.85" y1="511.4" x2="346.85" y2="510" stroke="#19d6e6" stroke-width="0.8" /><line x1="345.45" y1="510" x2="348.25" y2="510" stroke="#19d6e6" stroke-width="0.8" /><line x1="346.85" y1="517.2" x2="346.85" y2="519" stroke="#19d6e6" stroke-width="0.8" /><line x1="345.45" y1="519" x2="348.25" y2="519" stroke="#19d6e6" stroke-width="0.8" /><text x="227.2" y="538.8" font-size="5.4" font-weight="bold" fill="#111" text-anchor="middle"  textLength="10.4" lengthAdjust="spacingAndGlyphs">1 fM</text><text x="227.2" y="546.2" font-size="5.4" font-weight="bold" fill="#111" text-anchor="middle"  textLength="25" lengthAdjust="spacingAndGlyphs">amplicon</text><text x="257.2" y="538.8" font-size="5.4" font-weight="bold" fill="#111" text-anchor="middle"  textLength="13.6" lengthAdjust="spacingAndGlyphs">10 fM</text><text x="257.2" y="546.2" font-size="5.4" font-weight="bold" fill="#111" text-anchor="middle"  textLength="25" lengthAdjust="spacingAndGlyphs">amplicon</text><text x="286.8" y="538.8" font-size="5.4" font-weight="bold" fill="#111" text-anchor="middle"  textLength="13.6" lengthAdjust="spacingAndGlyphs">50 fM</text><text x="286.8" y="546.2" font-size="5.4" font-weight="bold" fill="#111" text-anchor="middle"  textLength="25" lengthAdjust="spacingAndGlyphs">amplicon</text><text x="317" y="538.8" font-size="5.4" font-weight="bold" fill="#111" text-anchor="middle"  textLength="16.8" lengthAdjust="spacingAndGlyphs">100 fM</text><text x="317" y="546.2" font-size="5.4" font-weight="bold" fill="#111" text-anchor="middle"  textLength="25" lengthAdjust="spacingAndGlyphs">amplicon</text><text x="348.4" y="538.8" font-size="5.4" font-weight="bold" fill="#111" text-anchor="middle"  textLength="24" lengthAdjust="spacingAndGlyphs">Negative</text><text x="348.4" y="546.2" font-size="5.4" font-weight="bold" fill="#111" text-anchor="middle"  textLength="34" lengthAdjust="spacingAndGlyphs">PCR control</text><text transform="translate(197.3,459.2) rotate(-90)" font-size="7.0" font-weight="bold" text-anchor="middle" fill="#1a1a1a" textLength="44.6" lengthAdjust="spacingAndGlyphs">R-Ro/Ro (%)</text></g>
</svg>
</body></html>
